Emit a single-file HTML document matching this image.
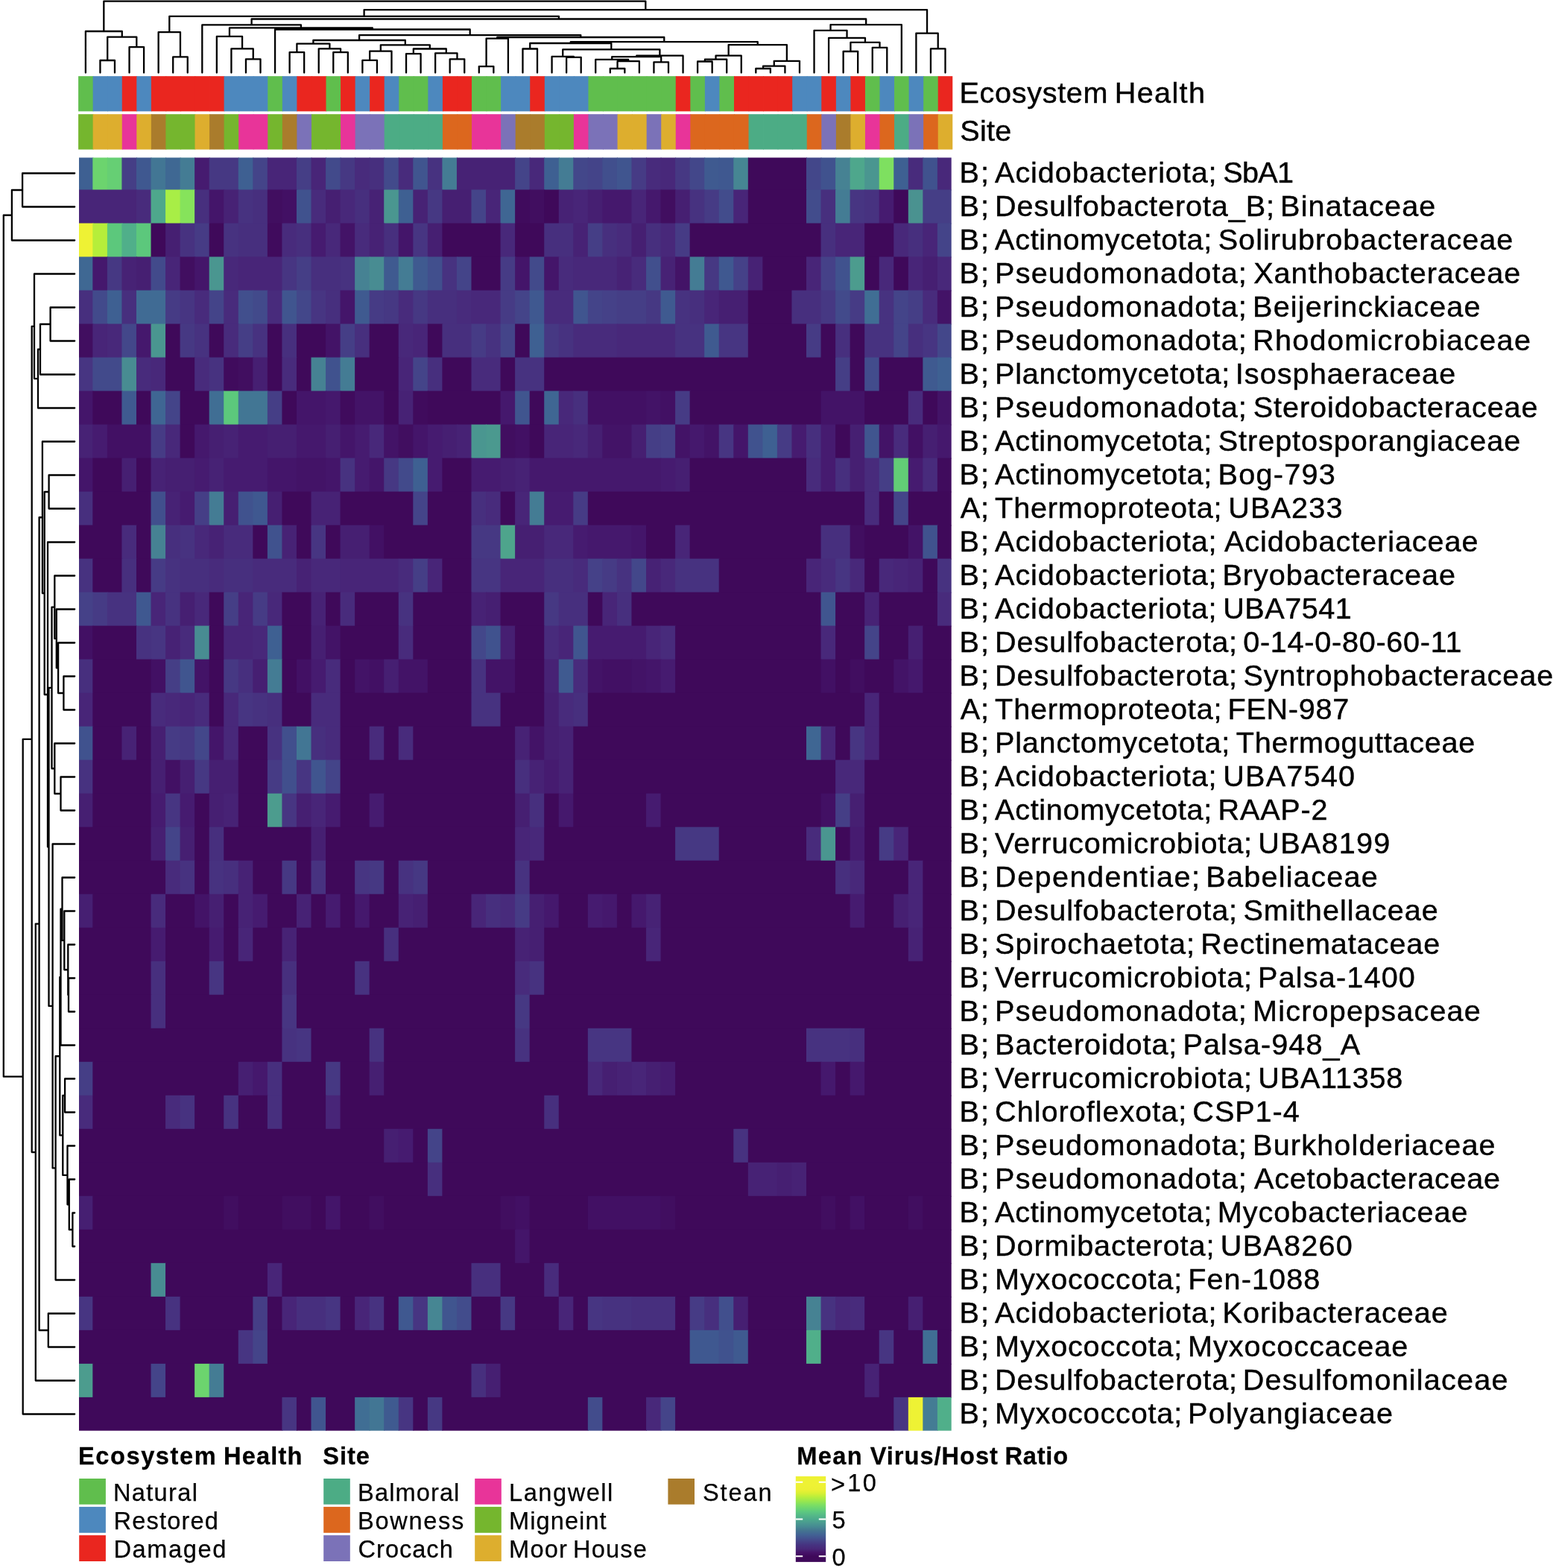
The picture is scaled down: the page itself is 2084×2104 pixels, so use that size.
<!DOCTYPE html>
<html lang="en"><head><meta charset="utf-8"><title>Mean Virus/Host Ratio heatmap</title>
<style>html,body{margin:0;padding:0;background:#fff;width:2084px;height:2104px}svg{display:block}text{font-family:"Liberation Sans",Arial,Helvetica,sans-serif;fill:#000}.rl{font-size:39.6px;stroke:#000;stroke-width:.45px}.lt{font-size:32.6px;font-weight:bold;stroke:#000;stroke-width:.3px}.ll{font-size:32.6px;stroke:#000;stroke-width:.25px}.d{fill:none;stroke:#000;stroke-width:2.3;stroke-linejoin:round;stroke-linecap:round}</style></head><body>
<svg width="2084" height="2104" viewBox="0 0 2084 2104" role="img" aria-label="Clustered heatmap of mean virus/host ratio">
<rect width="2084" height="2104" fill="#fff"/>
<g id="col-dend"><path class="d" d="M134.43 97.5V81H153.98V97.5M173.54 97.5V63.2H193.09V97.5M144.21 81V49.7H183.31V63.2M114.88 97.5V42H163.76V49.7M232.19 97.5V76.4H251.75V97.5M212.64 97.5V43.2H241.97V76.4M329.96 97.5V79.3H349.51V97.5M310.41 97.5V65.3H339.74V79.3M290.85 97.5V48.9H325.07V65.3M388.62 97.5V70.1H408.17V97.5M447.28 97.5V70.1H466.83V97.5M427.72 97.5V65.3H457.05V70.1M398.4 70.1V58.6H442.39V65.3M486.38 97.5V80.8H505.94V97.5M496.16 80.8V68.6H525.49V97.5M545.04 97.5V72.2H564.6V97.5M603.7 97.5V79.3H623.25V97.5M584.15 97.5V71.3H613.48V79.3M554.82 72.2V65.5H598.81V71.3M510.82 68.6V60.3H576.82V65.5M420.39 58.6V54H543.82V60.3M642.81 97.5V89.1H662.36V97.5M652.58 89.1V51.7H681.91V97.5M701.47 97.5V65.5H721.02V97.5M760.13 97.5V76.8H779.68V97.5M740.57 97.5V75.9H769.9V76.8M818.78 97.5V92H838.34V97.5M828.56 92V82.2H857.89V97.5M799.23 97.5V79.9H843.23V82.2M877.44 97.5V83.3H897V97.5M821.23 79.9V76.1H887.22V83.3M854.22 76.1V74.7H916.55V97.5M755.24 75.9V66.4H885.39V74.7M711.24 65.5V58H820.31V66.4M936.1 97.5V82.5H955.66V97.5M945.88 82.5V79.7H975.21V97.5M960.54 79.7V74.7H994.76V97.5M1014.31 97.5V92H1033.87V97.5M1024.09 92V88.7H1053.42V97.5M1038.76 88.7V81.8H1072.97V97.5M977.65 74.7V60.1H1055.86V81.8M765.78 58V56.2H1016.76V60.1M667.25 51.7V50H891.27V56.2M482.11 54V47.1H779.26V50M369.07 97.5V39.5H630.68V47.1M307.96 48.9V37.4H499.87V39.5M271.3 97.5V33.4H403.92V37.4M1131.63 97.5V69H1151.19V97.5M1170.74 97.5V63.8H1190.29V97.5M1141.41 69V56.9H1180.51V63.8M1112.08 97.5V50.8H1160.96V56.9M1092.53 97.5V40.8H1136.52V50.8M1114.52 40.8V33.1H1209.84V97.5M337.61 33.4V25.5H1162.18V33.1M227.31 43.2V21.8H749.9V25.5M1248.95 97.5V65.3H1268.5V97.5M1229.4 97.5V44.6H1258.73V65.3M488.6 21.8V13.2H1244.06V44.6M139.32 42V1.7H866.33V13.2"/></g>
<g id="row-dend"><path class="d" d="M100.2 232.5H30.1V277.5H100.2M30.1 255H15.9V322.5H100.2M100.2 412.5H67.6V457.5H100.2M67.6 435H54V502.5H100.2M54 468.75H51V547.5H100.2M100.2 367.5H46V508.12H51M100.2 637.5H65.6V682.5H100.2M100.2 907.5H85.4V952.5H100.2M100.2 862.5H78.1V930H85.4M100.2 817.5H75.8V896.25H78.1M100.2 772.5H73.3V856.88H75.8M100.2 1042.5H81.5V1087.5H100.2M100.2 997.5H73.3V1065H81.5M73.3 814.69H69.5V1031.25H73.3M100.2 1312.5H92V1357.5H100.2M100.2 1267.5H91.3V1335H92M100.2 1222.5H86.3V1301.25H91.3M100.2 1177.5H83.5V1261.88H86.3M83.5 1219.69H81.5V1402.5H100.2M100.2 1447.5H87.1V1492.5H100.2M100.2 1627.5H97.4V1672.5H100.2M100.2 1582.5H92.8V1650H97.4M100.2 1537.5H90.5V1616.25H92.8M87.1 1470H84.3V1576.88H90.5M81.5 1311.09H80.3V1523.44H84.3M80.3 1417.27H74.6V1717.5H100.2M100.2 1132.5H70.6V1567.38H74.6M69.5 922.97H65.5V1349.94H70.6M100.2 727.5H64V1136.46H65.5M65.6 660H59.7V931.98H64M100.2 592.5H56.9V795.99H59.7M100.2 1762.5H64.8V1807.5H100.2M56.9 694.24H52.6V1785H64.8M52.6 1239.62H47.8V1852.5H100.2M46 437.81H42.7V1546.06H47.8M42.7 991.94H30.7V1897.5H100.2M15.9 288.75H4.8V1444.72H30.7"/></g>
<g id="anno">
<rect x="105.1" y="102.2" width="20.35" height="47.2" fill="#60be4d"/>
<rect x="124.65" y="102.2" width="20.35" height="47.2" fill="#4d88be"/>
<rect x="144.21" y="102.2" width="20.35" height="47.2" fill="#4d88be"/>
<rect x="163.76" y="102.2" width="20.35" height="47.2" fill="#ea261f"/>
<rect x="183.31" y="102.2" width="20.35" height="47.2" fill="#4d88be"/>
<rect x="202.87" y="102.2" width="20.35" height="47.2" fill="#ea261f"/>
<rect x="222.42" y="102.2" width="20.35" height="47.2" fill="#ea261f"/>
<rect x="241.97" y="102.2" width="20.35" height="47.2" fill="#ea261f"/>
<rect x="261.52" y="102.2" width="20.35" height="47.2" fill="#ea261f"/>
<rect x="281.08" y="102.2" width="20.35" height="47.2" fill="#ea261f"/>
<rect x="300.63" y="102.2" width="20.35" height="47.2" fill="#4d88be"/>
<rect x="320.18" y="102.2" width="20.35" height="47.2" fill="#4d88be"/>
<rect x="339.74" y="102.2" width="20.35" height="47.2" fill="#4d88be"/>
<rect x="359.29" y="102.2" width="20.35" height="47.2" fill="#60be4d"/>
<rect x="378.84" y="102.2" width="20.35" height="47.2" fill="#4d88be"/>
<rect x="398.39" y="102.2" width="20.35" height="47.2" fill="#ea261f"/>
<rect x="417.95" y="102.2" width="20.35" height="47.2" fill="#ea261f"/>
<rect x="437.5" y="102.2" width="20.35" height="47.2" fill="#60be4d"/>
<rect x="457.05" y="102.2" width="20.35" height="47.2" fill="#ea261f"/>
<rect x="476.61" y="102.2" width="20.35" height="47.2" fill="#4d88be"/>
<rect x="496.16" y="102.2" width="20.35" height="47.2" fill="#ea261f"/>
<rect x="515.71" y="102.2" width="20.35" height="47.2" fill="#4d88be"/>
<rect x="535.27" y="102.2" width="20.35" height="47.2" fill="#60be4d"/>
<rect x="554.82" y="102.2" width="20.35" height="47.2" fill="#60be4d"/>
<rect x="574.37" y="102.2" width="20.35" height="47.2" fill="#4d88be"/>
<rect x="593.93" y="102.2" width="20.35" height="47.2" fill="#ea261f"/>
<rect x="613.48" y="102.2" width="20.35" height="47.2" fill="#ea261f"/>
<rect x="633.03" y="102.2" width="20.35" height="47.2" fill="#60be4d"/>
<rect x="652.58" y="102.2" width="20.35" height="47.2" fill="#60be4d"/>
<rect x="672.14" y="102.2" width="20.35" height="47.2" fill="#4d88be"/>
<rect x="691.69" y="102.2" width="20.35" height="47.2" fill="#4d88be"/>
<rect x="711.24" y="102.2" width="20.35" height="47.2" fill="#ea261f"/>
<rect x="730.8" y="102.2" width="20.35" height="47.2" fill="#4d88be"/>
<rect x="750.35" y="102.2" width="20.35" height="47.2" fill="#4d88be"/>
<rect x="769.9" y="102.2" width="20.35" height="47.2" fill="#4d88be"/>
<rect x="789.46" y="102.2" width="20.35" height="47.2" fill="#60be4d"/>
<rect x="809.01" y="102.2" width="20.35" height="47.2" fill="#60be4d"/>
<rect x="828.56" y="102.2" width="20.35" height="47.2" fill="#60be4d"/>
<rect x="848.11" y="102.2" width="20.35" height="47.2" fill="#60be4d"/>
<rect x="867.67" y="102.2" width="20.35" height="47.2" fill="#60be4d"/>
<rect x="887.22" y="102.2" width="20.35" height="47.2" fill="#60be4d"/>
<rect x="906.77" y="102.2" width="20.35" height="47.2" fill="#ea261f"/>
<rect x="926.33" y="102.2" width="20.35" height="47.2" fill="#60be4d"/>
<rect x="945.88" y="102.2" width="20.35" height="47.2" fill="#4d88be"/>
<rect x="965.43" y="102.2" width="20.35" height="47.2" fill="#60be4d"/>
<rect x="984.99" y="102.2" width="20.35" height="47.2" fill="#ea261f"/>
<rect x="1004.54" y="102.2" width="20.35" height="47.2" fill="#ea261f"/>
<rect x="1024.09" y="102.2" width="20.35" height="47.2" fill="#ea261f"/>
<rect x="1043.64" y="102.2" width="20.35" height="47.2" fill="#ea261f"/>
<rect x="1063.2" y="102.2" width="20.35" height="47.2" fill="#4d88be"/>
<rect x="1082.75" y="102.2" width="20.35" height="47.2" fill="#4d88be"/>
<rect x="1102.3" y="102.2" width="20.35" height="47.2" fill="#ea261f"/>
<rect x="1121.86" y="102.2" width="20.35" height="47.2" fill="#4d88be"/>
<rect x="1141.41" y="102.2" width="20.35" height="47.2" fill="#ea261f"/>
<rect x="1160.96" y="102.2" width="20.35" height="47.2" fill="#60be4d"/>
<rect x="1180.51" y="102.2" width="20.35" height="47.2" fill="#4d88be"/>
<rect x="1200.07" y="102.2" width="20.35" height="47.2" fill="#60be4d"/>
<rect x="1219.62" y="102.2" width="20.35" height="47.2" fill="#4d88be"/>
<rect x="1239.17" y="102.2" width="20.35" height="47.2" fill="#60be4d"/>
<rect x="1258.73" y="102.2" width="19.55" height="47.2" fill="#ea261f"/>
<rect x="105.1" y="153.2" width="20.35" height="47.4" fill="#75b62e"/>
<rect x="124.65" y="153.2" width="20.35" height="47.4" fill="#ddae2e"/>
<rect x="144.21" y="153.2" width="20.35" height="47.4" fill="#ddae2e"/>
<rect x="163.76" y="153.2" width="20.35" height="47.4" fill="#e83499"/>
<rect x="183.31" y="153.2" width="20.35" height="47.4" fill="#ddae2e"/>
<rect x="202.87" y="153.2" width="20.35" height="47.4" fill="#aa7c2c"/>
<rect x="222.42" y="153.2" width="20.35" height="47.4" fill="#75b62e"/>
<rect x="241.97" y="153.2" width="20.35" height="47.4" fill="#75b62e"/>
<rect x="261.52" y="153.2" width="20.35" height="47.4" fill="#ddae2e"/>
<rect x="281.08" y="153.2" width="20.35" height="47.4" fill="#aa7c2c"/>
<rect x="300.63" y="153.2" width="20.35" height="47.4" fill="#75b62e"/>
<rect x="320.18" y="153.2" width="20.35" height="47.4" fill="#e83499"/>
<rect x="339.74" y="153.2" width="20.35" height="47.4" fill="#e83499"/>
<rect x="359.29" y="153.2" width="20.35" height="47.4" fill="#75b62e"/>
<rect x="378.84" y="153.2" width="20.35" height="47.4" fill="#aa7c2c"/>
<rect x="398.39" y="153.2" width="20.35" height="47.4" fill="#7b72b8"/>
<rect x="417.95" y="153.2" width="20.35" height="47.4" fill="#75b62e"/>
<rect x="437.5" y="153.2" width="20.35" height="47.4" fill="#75b62e"/>
<rect x="457.05" y="153.2" width="20.35" height="47.4" fill="#e83499"/>
<rect x="476.61" y="153.2" width="20.35" height="47.4" fill="#7b72b8"/>
<rect x="496.16" y="153.2" width="20.35" height="47.4" fill="#7b72b8"/>
<rect x="515.71" y="153.2" width="20.35" height="47.4" fill="#4cac85"/>
<rect x="535.27" y="153.2" width="20.35" height="47.4" fill="#4cac85"/>
<rect x="554.82" y="153.2" width="20.35" height="47.4" fill="#4cac85"/>
<rect x="574.37" y="153.2" width="20.35" height="47.4" fill="#4cac85"/>
<rect x="593.93" y="153.2" width="20.35" height="47.4" fill="#dc671e"/>
<rect x="613.48" y="153.2" width="20.35" height="47.4" fill="#dc671e"/>
<rect x="633.03" y="153.2" width="20.35" height="47.4" fill="#e83499"/>
<rect x="652.58" y="153.2" width="20.35" height="47.4" fill="#e83499"/>
<rect x="672.14" y="153.2" width="20.35" height="47.4" fill="#7b72b8"/>
<rect x="691.69" y="153.2" width="20.35" height="47.4" fill="#aa7c2c"/>
<rect x="711.24" y="153.2" width="20.35" height="47.4" fill="#aa7c2c"/>
<rect x="730.8" y="153.2" width="20.35" height="47.4" fill="#75b62e"/>
<rect x="750.35" y="153.2" width="20.35" height="47.4" fill="#75b62e"/>
<rect x="769.9" y="153.2" width="20.35" height="47.4" fill="#e83499"/>
<rect x="789.46" y="153.2" width="20.35" height="47.4" fill="#7b72b8"/>
<rect x="809.01" y="153.2" width="20.35" height="47.4" fill="#7b72b8"/>
<rect x="828.56" y="153.2" width="20.35" height="47.4" fill="#ddae2e"/>
<rect x="848.11" y="153.2" width="20.35" height="47.4" fill="#ddae2e"/>
<rect x="867.67" y="153.2" width="20.35" height="47.4" fill="#7b72b8"/>
<rect x="887.22" y="153.2" width="20.35" height="47.4" fill="#ddae2e"/>
<rect x="906.77" y="153.2" width="20.35" height="47.4" fill="#e83499"/>
<rect x="926.33" y="153.2" width="20.35" height="47.4" fill="#dc671e"/>
<rect x="945.88" y="153.2" width="20.35" height="47.4" fill="#dc671e"/>
<rect x="965.43" y="153.2" width="20.35" height="47.4" fill="#dc671e"/>
<rect x="984.99" y="153.2" width="20.35" height="47.4" fill="#dc671e"/>
<rect x="1004.54" y="153.2" width="20.35" height="47.4" fill="#4cac85"/>
<rect x="1024.09" y="153.2" width="20.35" height="47.4" fill="#4cac85"/>
<rect x="1043.64" y="153.2" width="20.35" height="47.4" fill="#4cac85"/>
<rect x="1063.2" y="153.2" width="20.35" height="47.4" fill="#4cac85"/>
<rect x="1082.75" y="153.2" width="20.35" height="47.4" fill="#dc671e"/>
<rect x="1102.3" y="153.2" width="20.35" height="47.4" fill="#7b72b8"/>
<rect x="1121.86" y="153.2" width="20.35" height="47.4" fill="#aa7c2c"/>
<rect x="1141.41" y="153.2" width="20.35" height="47.4" fill="#ddae2e"/>
<rect x="1160.96" y="153.2" width="20.35" height="47.4" fill="#e83499"/>
<rect x="1180.51" y="153.2" width="20.35" height="47.4" fill="#dc671e"/>
<rect x="1200.07" y="153.2" width="20.35" height="47.4" fill="#4cac85"/>
<rect x="1219.62" y="153.2" width="20.35" height="47.4" fill="#7b72b8"/>
<rect x="1239.17" y="153.2" width="20.35" height="47.4" fill="#dc671e"/>
<rect x="1258.73" y="153.2" width="19.55" height="47.4" fill="#ddae2e"/>
</g>
<defs><clipPath id="hc"><rect x="106" y="211.5" width="1170.7" height="1708.3"/></clipPath></defs>
<g id="heat" clip-path="url(#hc)">
<rect x="104.8" y="209.5" width="20.54" height="46.01" fill="#3e6092"/>
<rect x="124.34" y="209.5" width="20.54" height="46.01" fill="#6cd46e"/>
<rect x="143.89" y="209.5" width="20.54" height="46.01" fill="#66cf74"/>
<rect x="163.43" y="209.5" width="20.54" height="46.01" fill="#453e86"/>
<rect x="182.98" y="209.5" width="20.54" height="46.01" fill="#3f5890"/>
<rect x="202.52" y="209.5" width="20.54" height="46.01" fill="#427694"/>
<rect x="222.06" y="209.5" width="20.54" height="46.01" fill="#3f6893"/>
<rect x="241.61" y="209.5" width="20.54" height="46.01" fill="#447c94"/>
<rect x="261.15" y="209.5" width="20.54" height="46.01" fill="#461b70"/>
<rect x="280.7" y="209.5" width="40.09" height="46.01" fill="#463883"/>
<rect x="319.78" y="209.5" width="20.54" height="46.01" fill="#3e6092"/>
<rect x="339.33" y="209.5" width="20.54" height="46.01" fill="#444489"/>
<rect x="358.87" y="209.5" width="40.09" height="46.01" fill="#482578"/>
<rect x="397.96" y="209.5" width="20.54" height="46.01" fill="#453e86"/>
<rect x="417.5" y="209.5" width="20.54" height="46.01" fill="#482578"/>
<rect x="437.05" y="209.5" width="20.54" height="46.01" fill="#424a8b"/>
<rect x="456.59" y="209.5" width="20.54" height="46.01" fill="#463883"/>
<rect x="476.14" y="209.5" width="20.54" height="46.01" fill="#482b7c"/>
<rect x="495.68" y="209.5" width="20.54" height="46.01" fill="#472f7e"/>
<rect x="515.22" y="209.5" width="20.54" height="46.01" fill="#424a8b"/>
<rect x="534.77" y="209.5" width="20.54" height="46.01" fill="#482b7c"/>
<rect x="554.31" y="209.5" width="20.54" height="46.01" fill="#40558f"/>
<rect x="573.86" y="209.5" width="20.54" height="46.01" fill="#473280"/>
<rect x="593.4" y="209.5" width="20.54" height="46.01" fill="#447c94"/>
<rect x="612.94" y="209.5" width="79.18" height="46.01" fill="#472275"/>
<rect x="691.12" y="209.5" width="20.54" height="46.01" fill="#444489"/>
<rect x="710.66" y="209.5" width="20.54" height="46.01" fill="#48287a"/>
<rect x="730.21" y="209.5" width="20.54" height="46.01" fill="#3e6092"/>
<rect x="749.75" y="209.5" width="20.54" height="46.01" fill="#447c94"/>
<rect x="769.3" y="209.5" width="20.54" height="46.01" fill="#43478a"/>
<rect x="788.84" y="209.5" width="20.54" height="46.01" fill="#444489"/>
<rect x="808.38" y="209.5" width="20.54" height="46.01" fill="#414f8d"/>
<rect x="827.93" y="209.5" width="20.54" height="46.01" fill="#40558f"/>
<rect x="847.47" y="209.5" width="20.54" height="46.01" fill="#463b85"/>
<rect x="867.02" y="209.5" width="20.54" height="46.01" fill="#482b7c"/>
<rect x="886.56" y="209.5" width="20.54" height="46.01" fill="#48287a"/>
<rect x="906.1" y="209.5" width="20.54" height="46.01" fill="#463883"/>
<rect x="925.65" y="209.5" width="20.54" height="46.01" fill="#43478a"/>
<rect x="945.19" y="209.5" width="20.54" height="46.01" fill="#3f5a90"/>
<rect x="964.74" y="209.5" width="20.54" height="46.01" fill="#3f5890"/>
<rect x="984.28" y="209.5" width="20.54" height="46.01" fill="#468693"/>
<rect x="1003.82" y="209.5" width="79.18" height="46.01" fill="#3f095a"/>
<rect x="1082" y="209.5" width="20.54" height="46.01" fill="#43478a"/>
<rect x="1101.54" y="209.5" width="20.54" height="46.01" fill="#40528e"/>
<rect x="1121.09" y="209.5" width="20.54" height="46.01" fill="#468293"/>
<rect x="1140.63" y="209.5" width="20.54" height="46.01" fill="#4ea78c"/>
<rect x="1160.18" y="209.5" width="20.54" height="46.01" fill="#4a9690"/>
<rect x="1179.72" y="209.5" width="20.54" height="46.01" fill="#7ee060"/>
<rect x="1199.26" y="209.5" width="20.54" height="46.01" fill="#3e6092"/>
<rect x="1218.81" y="209.5" width="20.54" height="46.01" fill="#482b7c"/>
<rect x="1238.35" y="209.5" width="20.54" height="46.01" fill="#40528e"/>
<rect x="1257.9" y="209.5" width="20.54" height="46.01" fill="#48287a"/>
<rect x="104.8" y="254.51" width="79.18" height="46.01" fill="#482578"/>
<rect x="182.98" y="254.51" width="20.54" height="46.01" fill="#482b7c"/>
<rect x="202.52" y="254.51" width="20.54" height="46.01" fill="#4ea78c"/>
<rect x="222.06" y="254.51" width="20.54" height="46.01" fill="#a8ee46"/>
<rect x="241.61" y="254.51" width="20.54" height="46.01" fill="#86e35b"/>
<rect x="261.15" y="254.51" width="20.54" height="46.01" fill="#472f7e"/>
<rect x="280.7" y="254.51" width="20.54" height="46.01" fill="#44156a"/>
<rect x="300.24" y="254.51" width="20.54" height="46.01" fill="#472275"/>
<rect x="319.78" y="254.51" width="20.54" height="46.01" fill="#473280"/>
<rect x="339.33" y="254.51" width="20.54" height="46.01" fill="#472f7e"/>
<rect x="358.87" y="254.51" width="20.54" height="46.01" fill="#410e60"/>
<rect x="378.42" y="254.51" width="20.54" height="46.01" fill="#421064"/>
<rect x="397.96" y="254.51" width="20.54" height="46.01" fill="#40528e"/>
<rect x="417.5" y="254.51" width="20.54" height="46.01" fill="#482b7c"/>
<rect x="437.05" y="254.51" width="20.54" height="46.01" fill="#461f72"/>
<rect x="456.59" y="254.51" width="20.54" height="46.01" fill="#48287a"/>
<rect x="476.14" y="254.51" width="20.54" height="46.01" fill="#472f7e"/>
<rect x="495.68" y="254.51" width="20.54" height="46.01" fill="#472275"/>
<rect x="515.22" y="254.51" width="20.54" height="46.01" fill="#4a9690"/>
<rect x="534.77" y="254.51" width="20.54" height="46.01" fill="#3e6092"/>
<rect x="554.31" y="254.51" width="20.54" height="46.01" fill="#472275"/>
<rect x="573.86" y="254.51" width="20.54" height="46.01" fill="#463883"/>
<rect x="593.4" y="254.51" width="40.09" height="46.01" fill="#461f72"/>
<rect x="632.49" y="254.51" width="20.54" height="46.01" fill="#444489"/>
<rect x="652.03" y="254.51" width="20.54" height="46.01" fill="#482578"/>
<rect x="671.58" y="254.51" width="20.54" height="46.01" fill="#3f6693"/>
<rect x="691.12" y="254.51" width="20.54" height="46.01" fill="#400b5d"/>
<rect x="710.66" y="254.51" width="20.54" height="46.01" fill="#410e60"/>
<rect x="730.21" y="254.51" width="20.54" height="46.01" fill="#3f095a"/>
<rect x="749.75" y="254.51" width="20.54" height="46.01" fill="#472275"/>
<rect x="769.3" y="254.51" width="20.54" height="46.01" fill="#482578"/>
<rect x="788.84" y="254.51" width="20.54" height="46.01" fill="#461f72"/>
<rect x="808.38" y="254.51" width="40.09" height="46.01" fill="#45186d"/>
<rect x="847.47" y="254.51" width="20.54" height="46.01" fill="#482578"/>
<rect x="867.02" y="254.51" width="20.54" height="46.01" fill="#45186d"/>
<rect x="886.56" y="254.51" width="20.54" height="46.01" fill="#410e60"/>
<rect x="906.1" y="254.51" width="20.54" height="46.01" fill="#461f72"/>
<rect x="925.65" y="254.51" width="20.54" height="46.01" fill="#473280"/>
<rect x="945.19" y="254.51" width="20.54" height="46.01" fill="#463b85"/>
<rect x="964.74" y="254.51" width="20.54" height="46.01" fill="#424c8c"/>
<rect x="984.28" y="254.51" width="20.54" height="46.01" fill="#482578"/>
<rect x="1003.82" y="254.51" width="79.18" height="46.01" fill="#3f095a"/>
<rect x="1082" y="254.51" width="20.54" height="46.01" fill="#424c8c"/>
<rect x="1101.54" y="254.51" width="20.54" height="46.01" fill="#472f7e"/>
<rect x="1121.09" y="254.51" width="20.54" height="46.01" fill="#447c94"/>
<rect x="1140.63" y="254.51" width="20.54" height="46.01" fill="#473582"/>
<rect x="1160.18" y="254.51" width="20.54" height="46.01" fill="#473280"/>
<rect x="1179.72" y="254.51" width="20.54" height="46.01" fill="#461b70"/>
<rect x="1199.26" y="254.51" width="20.54" height="46.01" fill="#3f095a"/>
<rect x="1218.81" y="254.51" width="20.54" height="46.01" fill="#4a9290"/>
<rect x="1238.35" y="254.51" width="40.09" height="46.01" fill="#453e86"/>
<rect x="104.8" y="299.52" width="20.54" height="46.01" fill="#eef234"/>
<rect x="124.34" y="299.52" width="20.54" height="46.01" fill="#b6ee3a"/>
<rect x="143.89" y="299.52" width="20.54" height="46.01" fill="#5cc87c"/>
<rect x="163.43" y="299.52" width="20.54" height="46.01" fill="#50af8a"/>
<rect x="182.98" y="299.52" width="20.54" height="46.01" fill="#5cc87c"/>
<rect x="202.52" y="299.52" width="20.54" height="46.01" fill="#3f095a"/>
<rect x="222.06" y="299.52" width="20.54" height="46.01" fill="#461f72"/>
<rect x="241.61" y="299.52" width="20.54" height="46.01" fill="#473280"/>
<rect x="261.15" y="299.52" width="20.54" height="46.01" fill="#463b85"/>
<rect x="280.7" y="299.52" width="20.54" height="46.01" fill="#3f095a"/>
<rect x="300.24" y="299.52" width="20.54" height="46.01" fill="#473280"/>
<rect x="319.78" y="299.52" width="40.09" height="46.01" fill="#472f7e"/>
<rect x="358.87" y="299.52" width="20.54" height="46.01" fill="#400b5d"/>
<rect x="378.42" y="299.52" width="20.54" height="46.01" fill="#482b7c"/>
<rect x="397.96" y="299.52" width="20.54" height="46.01" fill="#472f7e"/>
<rect x="417.5" y="299.52" width="20.54" height="46.01" fill="#461b70"/>
<rect x="437.05" y="299.52" width="20.54" height="46.01" fill="#48287a"/>
<rect x="456.59" y="299.52" width="20.54" height="46.01" fill="#431367"/>
<rect x="476.14" y="299.52" width="20.54" height="46.01" fill="#482b7c"/>
<rect x="495.68" y="299.52" width="20.54" height="46.01" fill="#472275"/>
<rect x="515.22" y="299.52" width="20.54" height="46.01" fill="#472f7e"/>
<rect x="534.77" y="299.52" width="20.54" height="46.01" fill="#44156a"/>
<rect x="554.31" y="299.52" width="20.54" height="46.01" fill="#473582"/>
<rect x="573.86" y="299.52" width="20.54" height="46.01" fill="#461f72"/>
<rect x="593.4" y="299.52" width="79.18" height="46.01" fill="#3f095a"/>
<rect x="671.58" y="299.52" width="20.54" height="46.01" fill="#48287a"/>
<rect x="691.12" y="299.52" width="40.09" height="46.01" fill="#3f095a"/>
<rect x="730.21" y="299.52" width="40.09" height="46.01" fill="#472f7e"/>
<rect x="769.3" y="299.52" width="20.54" height="46.01" fill="#472275"/>
<rect x="788.84" y="299.52" width="20.54" height="46.01" fill="#453e86"/>
<rect x="808.38" y="299.52" width="20.54" height="46.01" fill="#472f7e"/>
<rect x="827.93" y="299.52" width="20.54" height="46.01" fill="#482b7c"/>
<rect x="847.47" y="299.52" width="20.54" height="46.01" fill="#461f72"/>
<rect x="867.02" y="299.52" width="20.54" height="46.01" fill="#472f7e"/>
<rect x="886.56" y="299.52" width="20.54" height="46.01" fill="#48287a"/>
<rect x="906.1" y="299.52" width="20.54" height="46.01" fill="#463b85"/>
<rect x="925.65" y="299.52" width="176.9" height="46.01" fill="#3f095a"/>
<rect x="1101.54" y="299.52" width="20.54" height="46.01" fill="#472f7e"/>
<rect x="1121.09" y="299.52" width="40.09" height="46.01" fill="#482578"/>
<rect x="1160.18" y="299.52" width="40.09" height="46.01" fill="#3f095a"/>
<rect x="1199.26" y="299.52" width="20.54" height="46.01" fill="#48287a"/>
<rect x="1218.81" y="299.52" width="20.54" height="46.01" fill="#472f7e"/>
<rect x="1238.35" y="299.52" width="20.54" height="46.01" fill="#482578"/>
<rect x="1257.9" y="299.52" width="20.54" height="46.01" fill="#444489"/>
<rect x="104.8" y="344.53" width="20.54" height="46.01" fill="#3f6893"/>
<rect x="124.34" y="344.53" width="20.54" height="46.01" fill="#45186d"/>
<rect x="143.89" y="344.53" width="20.54" height="46.01" fill="#463883"/>
<rect x="163.43" y="344.53" width="20.54" height="46.01" fill="#472275"/>
<rect x="182.98" y="344.53" width="20.54" height="46.01" fill="#461f72"/>
<rect x="202.52" y="344.53" width="20.54" height="46.01" fill="#424a8b"/>
<rect x="222.06" y="344.53" width="20.54" height="46.01" fill="#482578"/>
<rect x="241.61" y="344.53" width="20.54" height="46.01" fill="#410e60"/>
<rect x="261.15" y="344.53" width="20.54" height="46.01" fill="#44156a"/>
<rect x="280.7" y="344.53" width="20.54" height="46.01" fill="#4a9690"/>
<rect x="300.24" y="344.53" width="20.54" height="46.01" fill="#48287a"/>
<rect x="319.78" y="344.53" width="59.63" height="46.01" fill="#482578"/>
<rect x="378.42" y="344.53" width="20.54" height="46.01" fill="#473582"/>
<rect x="397.96" y="344.53" width="20.54" height="46.01" fill="#453e86"/>
<rect x="417.5" y="344.53" width="40.09" height="46.01" fill="#472f7e"/>
<rect x="456.59" y="344.53" width="20.54" height="46.01" fill="#473280"/>
<rect x="476.14" y="344.53" width="20.54" height="46.01" fill="#468293"/>
<rect x="495.68" y="344.53" width="20.54" height="46.01" fill="#488c92"/>
<rect x="515.22" y="344.53" width="20.54" height="46.01" fill="#3f5a90"/>
<rect x="534.77" y="344.53" width="20.54" height="46.01" fill="#447c94"/>
<rect x="554.31" y="344.53" width="20.54" height="46.01" fill="#3f5a90"/>
<rect x="573.86" y="344.53" width="20.54" height="46.01" fill="#414f8d"/>
<rect x="593.4" y="344.53" width="20.54" height="46.01" fill="#473280"/>
<rect x="612.94" y="344.53" width="20.54" height="46.01" fill="#444489"/>
<rect x="632.49" y="344.53" width="40.09" height="46.01" fill="#3f095a"/>
<rect x="671.58" y="344.53" width="20.54" height="46.01" fill="#463b85"/>
<rect x="691.12" y="344.53" width="20.54" height="46.01" fill="#44156a"/>
<rect x="710.66" y="344.53" width="20.54" height="46.01" fill="#424a8b"/>
<rect x="730.21" y="344.53" width="20.54" height="46.01" fill="#44156a"/>
<rect x="749.75" y="344.53" width="20.54" height="46.01" fill="#482b7c"/>
<rect x="769.3" y="344.53" width="59.63" height="46.01" fill="#48287a"/>
<rect x="827.93" y="344.53" width="20.54" height="46.01" fill="#472275"/>
<rect x="847.47" y="344.53" width="20.54" height="46.01" fill="#482b7c"/>
<rect x="867.02" y="344.53" width="20.54" height="46.01" fill="#414f8d"/>
<rect x="886.56" y="344.53" width="20.54" height="46.01" fill="#472275"/>
<rect x="906.1" y="344.53" width="20.54" height="46.01" fill="#431367"/>
<rect x="925.65" y="344.53" width="20.54" height="46.01" fill="#447c94"/>
<rect x="945.19" y="344.53" width="20.54" height="46.01" fill="#463883"/>
<rect x="964.74" y="344.53" width="20.54" height="46.01" fill="#3f5890"/>
<rect x="984.28" y="344.53" width="20.54" height="46.01" fill="#454188"/>
<rect x="1003.82" y="344.53" width="20.54" height="46.01" fill="#472275"/>
<rect x="1023.37" y="344.53" width="59.63" height="46.01" fill="#3f095a"/>
<rect x="1082" y="344.53" width="20.54" height="46.01" fill="#482578"/>
<rect x="1101.54" y="344.53" width="20.54" height="46.01" fill="#454188"/>
<rect x="1121.09" y="344.53" width="20.54" height="46.01" fill="#40528e"/>
<rect x="1140.63" y="344.53" width="20.54" height="46.01" fill="#4c9c8e"/>
<rect x="1160.18" y="344.53" width="20.54" height="46.01" fill="#3f095a"/>
<rect x="1179.72" y="344.53" width="20.54" height="46.01" fill="#48287a"/>
<rect x="1199.26" y="344.53" width="20.54" height="46.01" fill="#3f095a"/>
<rect x="1218.81" y="344.53" width="20.54" height="46.01" fill="#482578"/>
<rect x="1238.35" y="344.53" width="20.54" height="46.01" fill="#461f72"/>
<rect x="1257.9" y="344.53" width="20.54" height="46.01" fill="#48287a"/>
<rect x="104.8" y="389.54" width="20.54" height="46.01" fill="#472f7e"/>
<rect x="124.34" y="389.54" width="20.54" height="46.01" fill="#424a8b"/>
<rect x="143.89" y="389.54" width="20.54" height="46.01" fill="#3e6092"/>
<rect x="163.43" y="389.54" width="20.54" height="46.01" fill="#472f7e"/>
<rect x="182.98" y="389.54" width="40.09" height="46.01" fill="#406b94"/>
<rect x="222.06" y="389.54" width="20.54" height="46.01" fill="#463b85"/>
<rect x="241.61" y="389.54" width="20.54" height="46.01" fill="#473582"/>
<rect x="261.15" y="389.54" width="20.54" height="46.01" fill="#482b7c"/>
<rect x="280.7" y="389.54" width="20.54" height="46.01" fill="#444489"/>
<rect x="300.24" y="389.54" width="20.54" height="46.01" fill="#482b7c"/>
<rect x="319.78" y="389.54" width="20.54" height="46.01" fill="#414f8d"/>
<rect x="339.33" y="389.54" width="20.54" height="46.01" fill="#424a8b"/>
<rect x="358.87" y="389.54" width="20.54" height="46.01" fill="#482b7c"/>
<rect x="378.42" y="389.54" width="20.54" height="46.01" fill="#40558f"/>
<rect x="397.96" y="389.54" width="20.54" height="46.01" fill="#43478a"/>
<rect x="417.5" y="389.54" width="20.54" height="46.01" fill="#473582"/>
<rect x="437.05" y="389.54" width="20.54" height="46.01" fill="#472f7e"/>
<rect x="456.59" y="389.54" width="20.54" height="46.01" fill="#44156a"/>
<rect x="476.14" y="389.54" width="20.54" height="46.01" fill="#3f5a90"/>
<rect x="495.68" y="389.54" width="20.54" height="46.01" fill="#463b85"/>
<rect x="515.22" y="389.54" width="20.54" height="46.01" fill="#463883"/>
<rect x="534.77" y="389.54" width="20.54" height="46.01" fill="#482b7c"/>
<rect x="554.31" y="389.54" width="20.54" height="46.01" fill="#463883"/>
<rect x="573.86" y="389.54" width="40.09" height="46.01" fill="#472f7e"/>
<rect x="612.94" y="389.54" width="20.54" height="46.01" fill="#482b7c"/>
<rect x="632.49" y="389.54" width="40.09" height="46.01" fill="#48287a"/>
<rect x="671.58" y="389.54" width="20.54" height="46.01" fill="#463b85"/>
<rect x="691.12" y="389.54" width="20.54" height="46.01" fill="#444489"/>
<rect x="710.66" y="389.54" width="20.54" height="46.01" fill="#3f5890"/>
<rect x="730.21" y="389.54" width="40.09" height="46.01" fill="#482b7c"/>
<rect x="769.3" y="389.54" width="20.54" height="46.01" fill="#40558f"/>
<rect x="788.84" y="389.54" width="20.54" height="46.01" fill="#444489"/>
<rect x="808.38" y="389.54" width="20.54" height="46.01" fill="#454188"/>
<rect x="827.93" y="389.54" width="40.09" height="46.01" fill="#453e86"/>
<rect x="867.02" y="389.54" width="20.54" height="46.01" fill="#463883"/>
<rect x="886.56" y="389.54" width="20.54" height="46.01" fill="#3f5a90"/>
<rect x="906.1" y="389.54" width="20.54" height="46.01" fill="#473280"/>
<rect x="925.65" y="389.54" width="20.54" height="46.01" fill="#472f7e"/>
<rect x="945.19" y="389.54" width="20.54" height="46.01" fill="#482578"/>
<rect x="964.74" y="389.54" width="40.09" height="46.01" fill="#461f72"/>
<rect x="1003.82" y="389.54" width="59.63" height="46.01" fill="#3f095a"/>
<rect x="1062.46" y="389.54" width="40.09" height="46.01" fill="#472f7e"/>
<rect x="1101.54" y="389.54" width="20.54" height="46.01" fill="#463883"/>
<rect x="1121.09" y="389.54" width="20.54" height="46.01" fill="#424a8b"/>
<rect x="1140.63" y="389.54" width="20.54" height="46.01" fill="#463b85"/>
<rect x="1160.18" y="389.54" width="20.54" height="46.01" fill="#406e94"/>
<rect x="1179.72" y="389.54" width="20.54" height="46.01" fill="#473280"/>
<rect x="1199.26" y="389.54" width="20.54" height="46.01" fill="#444489"/>
<rect x="1218.81" y="389.54" width="20.54" height="46.01" fill="#453e86"/>
<rect x="1238.35" y="389.54" width="20.54" height="46.01" fill="#482b7c"/>
<rect x="1257.9" y="389.54" width="20.54" height="46.01" fill="#431367"/>
<rect x="104.8" y="434.55" width="20.54" height="46.01" fill="#410e60"/>
<rect x="124.34" y="434.55" width="20.54" height="46.01" fill="#482578"/>
<rect x="143.89" y="434.55" width="20.54" height="46.01" fill="#48287a"/>
<rect x="163.43" y="434.55" width="20.54" height="46.01" fill="#43478a"/>
<rect x="182.98" y="434.55" width="20.54" height="46.01" fill="#45186d"/>
<rect x="202.52" y="434.55" width="20.54" height="46.01" fill="#4a9690"/>
<rect x="222.06" y="434.55" width="20.54" height="46.01" fill="#3f095a"/>
<rect x="241.61" y="434.55" width="20.54" height="46.01" fill="#463883"/>
<rect x="261.15" y="434.55" width="20.54" height="46.01" fill="#473280"/>
<rect x="280.7" y="434.55" width="20.54" height="46.01" fill="#3f095a"/>
<rect x="300.24" y="434.55" width="20.54" height="46.01" fill="#482b7c"/>
<rect x="319.78" y="434.55" width="20.54" height="46.01" fill="#453e86"/>
<rect x="339.33" y="434.55" width="20.54" height="46.01" fill="#473280"/>
<rect x="358.87" y="434.55" width="20.54" height="46.01" fill="#3f095a"/>
<rect x="378.42" y="434.55" width="20.54" height="46.01" fill="#472f7e"/>
<rect x="397.96" y="434.55" width="40.09" height="46.01" fill="#3f095a"/>
<rect x="437.05" y="434.55" width="20.54" height="46.01" fill="#431367"/>
<rect x="456.59" y="434.55" width="20.54" height="46.01" fill="#453e86"/>
<rect x="476.14" y="434.55" width="20.54" height="46.01" fill="#472f7e"/>
<rect x="495.68" y="434.55" width="40.09" height="46.01" fill="#3f095a"/>
<rect x="534.77" y="434.55" width="20.54" height="46.01" fill="#48287a"/>
<rect x="554.31" y="434.55" width="20.54" height="46.01" fill="#482578"/>
<rect x="573.86" y="434.55" width="20.54" height="46.01" fill="#3f095a"/>
<rect x="593.4" y="434.55" width="40.09" height="46.01" fill="#472f7e"/>
<rect x="632.49" y="434.55" width="20.54" height="46.01" fill="#463b85"/>
<rect x="652.03" y="434.55" width="20.54" height="46.01" fill="#473280"/>
<rect x="671.58" y="434.55" width="20.54" height="46.01" fill="#444489"/>
<rect x="691.12" y="434.55" width="20.54" height="46.01" fill="#3f095a"/>
<rect x="710.66" y="434.55" width="20.54" height="46.01" fill="#3e6092"/>
<rect x="730.21" y="434.55" width="20.54" height="46.01" fill="#463883"/>
<rect x="749.75" y="434.55" width="20.54" height="46.01" fill="#473280"/>
<rect x="769.3" y="434.55" width="59.63" height="46.01" fill="#482b7c"/>
<rect x="827.93" y="434.55" width="79.18" height="46.01" fill="#48287a"/>
<rect x="906.1" y="434.55" width="40.09" height="46.01" fill="#473280"/>
<rect x="945.19" y="434.55" width="20.54" height="46.01" fill="#3f5a90"/>
<rect x="964.74" y="434.55" width="40.09" height="46.01" fill="#473582"/>
<rect x="1003.82" y="434.55" width="79.18" height="46.01" fill="#3f095a"/>
<rect x="1082" y="434.55" width="20.54" height="46.01" fill="#463b85"/>
<rect x="1101.54" y="434.55" width="20.54" height="46.01" fill="#3f095a"/>
<rect x="1121.09" y="434.55" width="20.54" height="46.01" fill="#472f7e"/>
<rect x="1140.63" y="434.55" width="20.54" height="46.01" fill="#3f095a"/>
<rect x="1160.18" y="434.55" width="40.09" height="46.01" fill="#473280"/>
<rect x="1199.26" y="434.55" width="20.54" height="46.01" fill="#444489"/>
<rect x="1218.81" y="434.55" width="20.54" height="46.01" fill="#472f7e"/>
<rect x="1238.35" y="434.55" width="20.54" height="46.01" fill="#473582"/>
<rect x="1257.9" y="434.55" width="20.54" height="46.01" fill="#43478a"/>
<rect x="104.8" y="479.56" width="20.54" height="46.01" fill="#473582"/>
<rect x="124.34" y="479.56" width="40.09" height="46.01" fill="#424a8b"/>
<rect x="163.43" y="479.56" width="20.54" height="46.01" fill="#488c92"/>
<rect x="182.98" y="479.56" width="20.54" height="46.01" fill="#482b7c"/>
<rect x="202.52" y="479.56" width="20.54" height="46.01" fill="#48287a"/>
<rect x="222.06" y="479.56" width="40.09" height="46.01" fill="#3f095a"/>
<rect x="261.15" y="479.56" width="20.54" height="46.01" fill="#482b7c"/>
<rect x="280.7" y="479.56" width="20.54" height="46.01" fill="#473280"/>
<rect x="300.24" y="479.56" width="20.54" height="46.01" fill="#400b5d"/>
<rect x="319.78" y="479.56" width="20.54" height="46.01" fill="#410e60"/>
<rect x="339.33" y="479.56" width="20.54" height="46.01" fill="#461f72"/>
<rect x="358.87" y="479.56" width="20.54" height="46.01" fill="#3f095a"/>
<rect x="378.42" y="479.56" width="20.54" height="46.01" fill="#482b7c"/>
<rect x="397.96" y="479.56" width="20.54" height="46.01" fill="#3f095a"/>
<rect x="417.5" y="479.56" width="20.54" height="46.01" fill="#468293"/>
<rect x="437.05" y="479.56" width="20.54" height="46.01" fill="#40528e"/>
<rect x="456.59" y="479.56" width="20.54" height="46.01" fill="#447c94"/>
<rect x="476.14" y="479.56" width="59.63" height="46.01" fill="#3f095a"/>
<rect x="534.77" y="479.56" width="20.54" height="46.01" fill="#482578"/>
<rect x="554.31" y="479.56" width="20.54" height="46.01" fill="#444489"/>
<rect x="573.86" y="479.56" width="20.54" height="46.01" fill="#472f7e"/>
<rect x="593.4" y="479.56" width="40.09" height="46.01" fill="#3f095a"/>
<rect x="632.49" y="479.56" width="40.09" height="46.01" fill="#482b7c"/>
<rect x="671.58" y="479.56" width="20.54" height="46.01" fill="#3f095a"/>
<rect x="691.12" y="479.56" width="40.09" height="46.01" fill="#473280"/>
<rect x="730.21" y="479.56" width="391.88" height="46.01" fill="#3f095a"/>
<rect x="1121.09" y="479.56" width="20.54" height="46.01" fill="#453e86"/>
<rect x="1140.63" y="479.56" width="20.54" height="46.01" fill="#3f095a"/>
<rect x="1160.18" y="479.56" width="20.54" height="46.01" fill="#424c8c"/>
<rect x="1179.72" y="479.56" width="59.63" height="46.01" fill="#3f095a"/>
<rect x="1238.35" y="479.56" width="20.54" height="46.01" fill="#3f5a90"/>
<rect x="1257.9" y="479.56" width="20.54" height="46.01" fill="#3e6092"/>
<rect x="104.8" y="524.57" width="20.54" height="46.01" fill="#44156a"/>
<rect x="124.34" y="524.57" width="40.09" height="46.01" fill="#3f095a"/>
<rect x="163.43" y="524.57" width="20.54" height="46.01" fill="#3f5a90"/>
<rect x="182.98" y="524.57" width="20.54" height="46.01" fill="#3f095a"/>
<rect x="202.52" y="524.57" width="20.54" height="46.01" fill="#3f6693"/>
<rect x="222.06" y="524.57" width="20.54" height="46.01" fill="#444489"/>
<rect x="241.61" y="524.57" width="40.09" height="46.01" fill="#3f095a"/>
<rect x="280.7" y="524.57" width="20.54" height="46.01" fill="#406e94"/>
<rect x="300.24" y="524.57" width="20.54" height="46.01" fill="#5cc87c"/>
<rect x="319.78" y="524.57" width="40.09" height="46.01" fill="#427694"/>
<rect x="358.87" y="524.57" width="20.54" height="46.01" fill="#453e86"/>
<rect x="378.42" y="524.57" width="20.54" height="46.01" fill="#3f095a"/>
<rect x="397.96" y="524.57" width="40.09" height="46.01" fill="#44156a"/>
<rect x="437.05" y="524.57" width="20.54" height="46.01" fill="#45186d"/>
<rect x="456.59" y="524.57" width="20.54" height="46.01" fill="#400b5d"/>
<rect x="476.14" y="524.57" width="40.09" height="46.01" fill="#431367"/>
<rect x="515.22" y="524.57" width="20.54" height="46.01" fill="#3f095a"/>
<rect x="534.77" y="524.57" width="20.54" height="46.01" fill="#472275"/>
<rect x="554.31" y="524.57" width="20.54" height="46.01" fill="#400b5d"/>
<rect x="573.86" y="524.57" width="98.72" height="46.01" fill="#3f095a"/>
<rect x="671.58" y="524.57" width="20.54" height="46.01" fill="#45186d"/>
<rect x="691.12" y="524.57" width="20.54" height="46.01" fill="#40558f"/>
<rect x="710.66" y="524.57" width="20.54" height="46.01" fill="#3f095a"/>
<rect x="730.21" y="524.57" width="20.54" height="46.01" fill="#3f6693"/>
<rect x="749.75" y="524.57" width="20.54" height="46.01" fill="#48287a"/>
<rect x="769.3" y="524.57" width="20.54" height="46.01" fill="#472f7e"/>
<rect x="788.84" y="524.57" width="79.18" height="46.01" fill="#421064"/>
<rect x="867.02" y="524.57" width="20.54" height="46.01" fill="#431367"/>
<rect x="886.56" y="524.57" width="20.54" height="46.01" fill="#421064"/>
<rect x="906.1" y="524.57" width="20.54" height="46.01" fill="#463b85"/>
<rect x="925.65" y="524.57" width="176.9" height="46.01" fill="#3f095a"/>
<rect x="1101.54" y="524.57" width="59.63" height="46.01" fill="#431367"/>
<rect x="1160.18" y="524.57" width="59.63" height="46.01" fill="#3f095a"/>
<rect x="1218.81" y="524.57" width="20.54" height="46.01" fill="#482b7c"/>
<rect x="1238.35" y="524.57" width="20.54" height="46.01" fill="#3f095a"/>
<rect x="1257.9" y="524.57" width="20.54" height="46.01" fill="#431367"/>
<rect x="104.8" y="569.58" width="20.54" height="46.01" fill="#472275"/>
<rect x="124.34" y="569.58" width="20.54" height="46.01" fill="#461b70"/>
<rect x="143.89" y="569.58" width="59.63" height="46.01" fill="#421064"/>
<rect x="202.52" y="569.58" width="20.54" height="46.01" fill="#463b85"/>
<rect x="222.06" y="569.58" width="20.54" height="46.01" fill="#48287a"/>
<rect x="241.61" y="569.58" width="20.54" height="46.01" fill="#3f095a"/>
<rect x="261.15" y="569.58" width="20.54" height="46.01" fill="#45186d"/>
<rect x="280.7" y="569.58" width="20.54" height="46.01" fill="#461f72"/>
<rect x="300.24" y="569.58" width="20.54" height="46.01" fill="#472275"/>
<rect x="319.78" y="569.58" width="40.09" height="46.01" fill="#461b70"/>
<rect x="358.87" y="569.58" width="40.09" height="46.01" fill="#461f72"/>
<rect x="397.96" y="569.58" width="40.09" height="46.01" fill="#45186d"/>
<rect x="437.05" y="569.58" width="20.54" height="46.01" fill="#461f72"/>
<rect x="456.59" y="569.58" width="20.54" height="46.01" fill="#44156a"/>
<rect x="476.14" y="569.58" width="20.54" height="46.01" fill="#461b70"/>
<rect x="495.68" y="569.58" width="20.54" height="46.01" fill="#48287a"/>
<rect x="515.22" y="569.58" width="20.54" height="46.01" fill="#431367"/>
<rect x="534.77" y="569.58" width="20.54" height="46.01" fill="#410e60"/>
<rect x="554.31" y="569.58" width="20.54" height="46.01" fill="#44156a"/>
<rect x="573.86" y="569.58" width="20.54" height="46.01" fill="#461b70"/>
<rect x="593.4" y="569.58" width="20.54" height="46.01" fill="#461f72"/>
<rect x="612.94" y="569.58" width="20.54" height="46.01" fill="#472275"/>
<rect x="632.49" y="569.58" width="20.54" height="46.01" fill="#4a9690"/>
<rect x="652.03" y="569.58" width="20.54" height="46.01" fill="#4b998f"/>
<rect x="671.58" y="569.58" width="20.54" height="46.01" fill="#410e60"/>
<rect x="691.12" y="569.58" width="20.54" height="46.01" fill="#421064"/>
<rect x="710.66" y="569.58" width="20.54" height="46.01" fill="#3f095a"/>
<rect x="730.21" y="569.58" width="40.09" height="46.01" fill="#482578"/>
<rect x="769.3" y="569.58" width="20.54" height="46.01" fill="#48287a"/>
<rect x="788.84" y="569.58" width="20.54" height="46.01" fill="#461f72"/>
<rect x="808.38" y="569.58" width="40.09" height="46.01" fill="#431367"/>
<rect x="847.47" y="569.58" width="20.54" height="46.01" fill="#461f72"/>
<rect x="867.02" y="569.58" width="20.54" height="46.01" fill="#453e86"/>
<rect x="886.56" y="569.58" width="20.54" height="46.01" fill="#454188"/>
<rect x="906.1" y="569.58" width="20.54" height="46.01" fill="#431367"/>
<rect x="925.65" y="569.58" width="20.54" height="46.01" fill="#45186d"/>
<rect x="945.19" y="569.58" width="20.54" height="46.01" fill="#431367"/>
<rect x="964.74" y="569.58" width="20.54" height="46.01" fill="#473582"/>
<rect x="984.28" y="569.58" width="20.54" height="46.01" fill="#44156a"/>
<rect x="1003.82" y="569.58" width="20.54" height="46.01" fill="#40528e"/>
<rect x="1023.37" y="569.58" width="20.54" height="46.01" fill="#3e6092"/>
<rect x="1042.91" y="569.58" width="20.54" height="46.01" fill="#463b85"/>
<rect x="1062.46" y="569.58" width="20.54" height="46.01" fill="#461b70"/>
<rect x="1082" y="569.58" width="20.54" height="46.01" fill="#472f7e"/>
<rect x="1101.54" y="569.58" width="20.54" height="46.01" fill="#461b70"/>
<rect x="1121.09" y="569.58" width="20.54" height="46.01" fill="#3f095a"/>
<rect x="1140.63" y="569.58" width="20.54" height="46.01" fill="#461f72"/>
<rect x="1160.18" y="569.58" width="20.54" height="46.01" fill="#40558f"/>
<rect x="1179.72" y="569.58" width="20.54" height="46.01" fill="#431367"/>
<rect x="1199.26" y="569.58" width="20.54" height="46.01" fill="#482b7c"/>
<rect x="1218.81" y="569.58" width="20.54" height="46.01" fill="#421064"/>
<rect x="1238.35" y="569.58" width="20.54" height="46.01" fill="#461f72"/>
<rect x="1257.9" y="569.58" width="20.54" height="46.01" fill="#45186d"/>
<rect x="104.8" y="614.59" width="20.54" height="46.01" fill="#44156a"/>
<rect x="124.34" y="614.59" width="40.09" height="46.01" fill="#3f095a"/>
<rect x="163.43" y="614.59" width="20.54" height="46.01" fill="#461f72"/>
<rect x="182.98" y="614.59" width="20.54" height="46.01" fill="#3f095a"/>
<rect x="202.52" y="614.59" width="20.54" height="46.01" fill="#472275"/>
<rect x="222.06" y="614.59" width="40.09" height="46.01" fill="#461f72"/>
<rect x="261.15" y="614.59" width="20.54" height="46.01" fill="#461b70"/>
<rect x="280.7" y="614.59" width="20.54" height="46.01" fill="#472275"/>
<rect x="300.24" y="614.59" width="59.63" height="46.01" fill="#461b70"/>
<rect x="358.87" y="614.59" width="40.09" height="46.01" fill="#44156a"/>
<rect x="397.96" y="614.59" width="40.09" height="46.01" fill="#431367"/>
<rect x="437.05" y="614.59" width="20.54" height="46.01" fill="#44156a"/>
<rect x="456.59" y="614.59" width="20.54" height="46.01" fill="#473280"/>
<rect x="476.14" y="614.59" width="20.54" height="46.01" fill="#461b70"/>
<rect x="495.68" y="614.59" width="20.54" height="46.01" fill="#44156a"/>
<rect x="515.22" y="614.59" width="20.54" height="46.01" fill="#463883"/>
<rect x="534.77" y="614.59" width="20.54" height="46.01" fill="#424a8b"/>
<rect x="554.31" y="614.59" width="20.54" height="46.01" fill="#3e6092"/>
<rect x="573.86" y="614.59" width="20.54" height="46.01" fill="#461b70"/>
<rect x="593.4" y="614.59" width="40.09" height="46.01" fill="#3f095a"/>
<rect x="632.49" y="614.59" width="40.09" height="46.01" fill="#461b70"/>
<rect x="671.58" y="614.59" width="20.54" height="46.01" fill="#461f72"/>
<rect x="691.12" y="614.59" width="20.54" height="46.01" fill="#472275"/>
<rect x="710.66" y="614.59" width="176.9" height="46.01" fill="#45186d"/>
<rect x="886.56" y="614.59" width="20.54" height="46.01" fill="#461b70"/>
<rect x="906.1" y="614.59" width="20.54" height="46.01" fill="#461f72"/>
<rect x="925.65" y="614.59" width="157.35" height="46.01" fill="#3f095a"/>
<rect x="1082" y="614.59" width="20.54" height="46.01" fill="#482b7c"/>
<rect x="1101.54" y="614.59" width="20.54" height="46.01" fill="#461b70"/>
<rect x="1121.09" y="614.59" width="20.54" height="46.01" fill="#472f7e"/>
<rect x="1140.63" y="614.59" width="20.54" height="46.01" fill="#461f72"/>
<rect x="1160.18" y="614.59" width="20.54" height="46.01" fill="#482b7c"/>
<rect x="1179.72" y="614.59" width="20.54" height="46.01" fill="#453e86"/>
<rect x="1199.26" y="614.59" width="20.54" height="46.01" fill="#62cd76"/>
<rect x="1218.81" y="614.59" width="20.54" height="46.01" fill="#461b70"/>
<rect x="1238.35" y="614.59" width="20.54" height="46.01" fill="#482b7c"/>
<rect x="1257.9" y="614.59" width="20.54" height="46.01" fill="#400b5d"/>
<rect x="104.8" y="659.6" width="20.54" height="46.01" fill="#472f7e"/>
<rect x="124.34" y="659.6" width="79.18" height="46.01" fill="#3f095a"/>
<rect x="202.52" y="659.6" width="20.54" height="46.01" fill="#414f8d"/>
<rect x="222.06" y="659.6" width="20.54" height="46.01" fill="#472275"/>
<rect x="241.61" y="659.6" width="20.54" height="46.01" fill="#461b70"/>
<rect x="261.15" y="659.6" width="20.54" height="46.01" fill="#453e86"/>
<rect x="280.7" y="659.6" width="20.54" height="46.01" fill="#447c94"/>
<rect x="300.24" y="659.6" width="20.54" height="46.01" fill="#461f72"/>
<rect x="319.78" y="659.6" width="20.54" height="46.01" fill="#40528e"/>
<rect x="339.33" y="659.6" width="20.54" height="46.01" fill="#3f5890"/>
<rect x="358.87" y="659.6" width="20.54" height="46.01" fill="#461f72"/>
<rect x="378.42" y="659.6" width="40.09" height="46.01" fill="#3f095a"/>
<rect x="417.5" y="659.6" width="40.09" height="46.01" fill="#472275"/>
<rect x="456.59" y="659.6" width="98.72" height="46.01" fill="#3f095a"/>
<rect x="554.31" y="659.6" width="20.54" height="46.01" fill="#444489"/>
<rect x="573.86" y="659.6" width="59.63" height="46.01" fill="#3f095a"/>
<rect x="632.49" y="659.6" width="20.54" height="46.01" fill="#472f7e"/>
<rect x="652.03" y="659.6" width="20.54" height="46.01" fill="#482b7c"/>
<rect x="671.58" y="659.6" width="20.54" height="46.01" fill="#3f095a"/>
<rect x="691.12" y="659.6" width="20.54" height="46.01" fill="#482578"/>
<rect x="710.66" y="659.6" width="20.54" height="46.01" fill="#447c94"/>
<rect x="730.21" y="659.6" width="40.09" height="46.01" fill="#461b70"/>
<rect x="769.3" y="659.6" width="20.54" height="46.01" fill="#463b85"/>
<rect x="788.84" y="659.6" width="372.34" height="46.01" fill="#3f095a"/>
<rect x="1160.18" y="659.6" width="20.54" height="46.01" fill="#482b7c"/>
<rect x="1179.72" y="659.6" width="20.54" height="46.01" fill="#3f095a"/>
<rect x="1199.26" y="659.6" width="20.54" height="46.01" fill="#444489"/>
<rect x="1218.81" y="659.6" width="59.63" height="46.01" fill="#3f095a"/>
<rect x="104.8" y="704.61" width="59.63" height="46.01" fill="#3f095a"/>
<rect x="163.43" y="704.61" width="20.54" height="46.01" fill="#482b7c"/>
<rect x="182.98" y="704.61" width="20.54" height="46.01" fill="#3f095a"/>
<rect x="202.52" y="704.61" width="20.54" height="46.01" fill="#468293"/>
<rect x="222.06" y="704.61" width="20.54" height="46.01" fill="#472f7e"/>
<rect x="241.61" y="704.61" width="20.54" height="46.01" fill="#473280"/>
<rect x="261.15" y="704.61" width="20.54" height="46.01" fill="#48287a"/>
<rect x="280.7" y="704.61" width="20.54" height="46.01" fill="#472275"/>
<rect x="300.24" y="704.61" width="40.09" height="46.01" fill="#482b7c"/>
<rect x="339.33" y="704.61" width="20.54" height="46.01" fill="#3f095a"/>
<rect x="358.87" y="704.61" width="20.54" height="46.01" fill="#40528e"/>
<rect x="378.42" y="704.61" width="20.54" height="46.01" fill="#472275"/>
<rect x="397.96" y="704.61" width="20.54" height="46.01" fill="#3f095a"/>
<rect x="417.5" y="704.61" width="20.54" height="46.01" fill="#473582"/>
<rect x="437.05" y="704.61" width="20.54" height="46.01" fill="#3f095a"/>
<rect x="456.59" y="704.61" width="40.09" height="46.01" fill="#461f72"/>
<rect x="495.68" y="704.61" width="20.54" height="46.01" fill="#421064"/>
<rect x="515.22" y="704.61" width="118.26" height="46.01" fill="#3f095a"/>
<rect x="632.49" y="704.61" width="40.09" height="46.01" fill="#463883"/>
<rect x="671.58" y="704.61" width="20.54" height="46.01" fill="#4ea48c"/>
<rect x="691.12" y="704.61" width="40.09" height="46.01" fill="#461f72"/>
<rect x="730.21" y="704.61" width="40.09" height="46.01" fill="#48287a"/>
<rect x="769.3" y="704.61" width="20.54" height="46.01" fill="#461b70"/>
<rect x="788.84" y="704.61" width="59.63" height="46.01" fill="#45186d"/>
<rect x="847.47" y="704.61" width="20.54" height="46.01" fill="#44156a"/>
<rect x="867.02" y="704.61" width="40.09" height="46.01" fill="#3f095a"/>
<rect x="906.1" y="704.61" width="20.54" height="46.01" fill="#482578"/>
<rect x="925.65" y="704.61" width="176.9" height="46.01" fill="#3f095a"/>
<rect x="1101.54" y="704.61" width="40.09" height="46.01" fill="#472f7e"/>
<rect x="1140.63" y="704.61" width="20.54" height="46.01" fill="#410e60"/>
<rect x="1160.18" y="704.61" width="59.63" height="46.01" fill="#3f095a"/>
<rect x="1218.81" y="704.61" width="20.54" height="46.01" fill="#431367"/>
<rect x="1238.35" y="704.61" width="20.54" height="46.01" fill="#40528e"/>
<rect x="1257.9" y="704.61" width="20.54" height="46.01" fill="#3f095a"/>
<rect x="104.8" y="749.62" width="20.54" height="46.01" fill="#473280"/>
<rect x="124.34" y="749.62" width="40.09" height="46.01" fill="#3f095a"/>
<rect x="163.43" y="749.62" width="20.54" height="46.01" fill="#472f7e"/>
<rect x="182.98" y="749.62" width="20.54" height="46.01" fill="#3f095a"/>
<rect x="202.52" y="749.62" width="20.54" height="46.01" fill="#463b85"/>
<rect x="222.06" y="749.62" width="20.54" height="46.01" fill="#473280"/>
<rect x="241.61" y="749.62" width="40.09" height="46.01" fill="#472f7e"/>
<rect x="280.7" y="749.62" width="20.54" height="46.01" fill="#482b7c"/>
<rect x="300.24" y="749.62" width="40.09" height="46.01" fill="#472f7e"/>
<rect x="339.33" y="749.62" width="59.63" height="46.01" fill="#482b7c"/>
<rect x="397.96" y="749.62" width="20.54" height="46.01" fill="#472275"/>
<rect x="417.5" y="749.62" width="40.09" height="46.01" fill="#48287a"/>
<rect x="456.59" y="749.62" width="79.18" height="46.01" fill="#482578"/>
<rect x="534.77" y="749.62" width="20.54" height="46.01" fill="#482b7c"/>
<rect x="554.31" y="749.62" width="20.54" height="46.01" fill="#453e86"/>
<rect x="573.86" y="749.62" width="20.54" height="46.01" fill="#482578"/>
<rect x="593.4" y="749.62" width="40.09" height="46.01" fill="#3f095a"/>
<rect x="632.49" y="749.62" width="40.09" height="46.01" fill="#473582"/>
<rect x="671.58" y="749.62" width="59.63" height="46.01" fill="#482578"/>
<rect x="730.21" y="749.62" width="40.09" height="46.01" fill="#472f7e"/>
<rect x="769.3" y="749.62" width="20.54" height="46.01" fill="#482b7c"/>
<rect x="788.84" y="749.62" width="20.54" height="46.01" fill="#454188"/>
<rect x="808.38" y="749.62" width="20.54" height="46.01" fill="#463b85"/>
<rect x="827.93" y="749.62" width="20.54" height="46.01" fill="#473280"/>
<rect x="847.47" y="749.62" width="20.54" height="46.01" fill="#43478a"/>
<rect x="867.02" y="749.62" width="20.54" height="46.01" fill="#472275"/>
<rect x="886.56" y="749.62" width="20.54" height="46.01" fill="#48287a"/>
<rect x="906.1" y="749.62" width="59.63" height="46.01" fill="#473280"/>
<rect x="964.74" y="749.62" width="118.26" height="46.01" fill="#3f095a"/>
<rect x="1082" y="749.62" width="20.54" height="46.01" fill="#482578"/>
<rect x="1101.54" y="749.62" width="20.54" height="46.01" fill="#482b7c"/>
<rect x="1121.09" y="749.62" width="20.54" height="46.01" fill="#473582"/>
<rect x="1140.63" y="749.62" width="20.54" height="46.01" fill="#48287a"/>
<rect x="1160.18" y="749.62" width="20.54" height="46.01" fill="#3f095a"/>
<rect x="1179.72" y="749.62" width="20.54" height="46.01" fill="#48287a"/>
<rect x="1199.26" y="749.62" width="20.54" height="46.01" fill="#482578"/>
<rect x="1218.81" y="749.62" width="20.54" height="46.01" fill="#472275"/>
<rect x="1238.35" y="749.62" width="20.54" height="46.01" fill="#3f095a"/>
<rect x="1257.9" y="749.62" width="20.54" height="46.01" fill="#473280"/>
<rect x="104.8" y="794.63" width="20.54" height="46.01" fill="#454188"/>
<rect x="124.34" y="794.63" width="20.54" height="46.01" fill="#463b85"/>
<rect x="143.89" y="794.63" width="40.09" height="46.01" fill="#473280"/>
<rect x="182.98" y="794.63" width="20.54" height="46.01" fill="#3f5890"/>
<rect x="202.52" y="794.63" width="20.54" height="46.01" fill="#482578"/>
<rect x="222.06" y="794.63" width="20.54" height="46.01" fill="#473280"/>
<rect x="241.61" y="794.63" width="20.54" height="46.01" fill="#461f72"/>
<rect x="261.15" y="794.63" width="20.54" height="46.01" fill="#48287a"/>
<rect x="280.7" y="794.63" width="20.54" height="46.01" fill="#3f095a"/>
<rect x="300.24" y="794.63" width="20.54" height="46.01" fill="#453e86"/>
<rect x="319.78" y="794.63" width="20.54" height="46.01" fill="#482578"/>
<rect x="339.33" y="794.63" width="20.54" height="46.01" fill="#463b85"/>
<rect x="358.87" y="794.63" width="20.54" height="46.01" fill="#48287a"/>
<rect x="378.42" y="794.63" width="40.09" height="46.01" fill="#3f095a"/>
<rect x="417.5" y="794.63" width="20.54" height="46.01" fill="#472275"/>
<rect x="437.05" y="794.63" width="20.54" height="46.01" fill="#3f095a"/>
<rect x="456.59" y="794.63" width="20.54" height="46.01" fill="#482b7c"/>
<rect x="476.14" y="794.63" width="59.63" height="46.01" fill="#3f095a"/>
<rect x="534.77" y="794.63" width="20.54" height="46.01" fill="#473280"/>
<rect x="554.31" y="794.63" width="79.18" height="46.01" fill="#3f095a"/>
<rect x="632.49" y="794.63" width="20.54" height="46.01" fill="#472275"/>
<rect x="652.03" y="794.63" width="20.54" height="46.01" fill="#461f72"/>
<rect x="671.58" y="794.63" width="59.63" height="46.01" fill="#3f095a"/>
<rect x="730.21" y="794.63" width="20.54" height="46.01" fill="#463883"/>
<rect x="749.75" y="794.63" width="40.09" height="46.01" fill="#472f7e"/>
<rect x="788.84" y="794.63" width="20.54" height="46.01" fill="#3f095a"/>
<rect x="808.38" y="794.63" width="20.54" height="46.01" fill="#482578"/>
<rect x="827.93" y="794.63" width="20.54" height="46.01" fill="#472f7e"/>
<rect x="847.47" y="794.63" width="255.07" height="46.01" fill="#3f095a"/>
<rect x="1101.54" y="794.63" width="20.54" height="46.01" fill="#40558f"/>
<rect x="1121.09" y="794.63" width="40.09" height="46.01" fill="#3f095a"/>
<rect x="1160.18" y="794.63" width="20.54" height="46.01" fill="#472275"/>
<rect x="1179.72" y="794.63" width="79.18" height="46.01" fill="#3f095a"/>
<rect x="1257.9" y="794.63" width="20.54" height="46.01" fill="#482b7c"/>
<rect x="104.8" y="839.64" width="20.54" height="46.01" fill="#421064"/>
<rect x="124.34" y="839.64" width="59.63" height="46.01" fill="#3f095a"/>
<rect x="182.98" y="839.64" width="20.54" height="46.01" fill="#473280"/>
<rect x="202.52" y="839.64" width="20.54" height="46.01" fill="#473582"/>
<rect x="222.06" y="839.64" width="20.54" height="46.01" fill="#472275"/>
<rect x="241.61" y="839.64" width="20.54" height="46.01" fill="#482b7c"/>
<rect x="261.15" y="839.64" width="20.54" height="46.01" fill="#488c92"/>
<rect x="280.7" y="839.64" width="20.54" height="46.01" fill="#3f095a"/>
<rect x="300.24" y="839.64" width="40.09" height="46.01" fill="#482578"/>
<rect x="339.33" y="839.64" width="20.54" height="46.01" fill="#48287a"/>
<rect x="358.87" y="839.64" width="20.54" height="46.01" fill="#3e6092"/>
<rect x="378.42" y="839.64" width="40.09" height="46.01" fill="#3f095a"/>
<rect x="417.5" y="839.64" width="20.54" height="46.01" fill="#461f72"/>
<rect x="437.05" y="839.64" width="20.54" height="46.01" fill="#431367"/>
<rect x="456.59" y="839.64" width="79.18" height="46.01" fill="#3f095a"/>
<rect x="534.77" y="839.64" width="20.54" height="46.01" fill="#482b7c"/>
<rect x="554.31" y="839.64" width="79.18" height="46.01" fill="#3f095a"/>
<rect x="632.49" y="839.64" width="20.54" height="46.01" fill="#43478a"/>
<rect x="652.03" y="839.64" width="20.54" height="46.01" fill="#40528e"/>
<rect x="671.58" y="839.64" width="20.54" height="46.01" fill="#461f72"/>
<rect x="691.12" y="839.64" width="40.09" height="46.01" fill="#3f095a"/>
<rect x="730.21" y="839.64" width="20.54" height="46.01" fill="#482b7c"/>
<rect x="749.75" y="839.64" width="20.54" height="46.01" fill="#482578"/>
<rect x="769.3" y="839.64" width="20.54" height="46.01" fill="#40558f"/>
<rect x="788.84" y="839.64" width="79.18" height="46.01" fill="#461b70"/>
<rect x="867.02" y="839.64" width="20.54" height="46.01" fill="#482578"/>
<rect x="886.56" y="839.64" width="20.54" height="46.01" fill="#482b7c"/>
<rect x="906.1" y="839.64" width="196.44" height="46.01" fill="#3f095a"/>
<rect x="1101.54" y="839.64" width="20.54" height="46.01" fill="#48287a"/>
<rect x="1121.09" y="839.64" width="40.09" height="46.01" fill="#3f095a"/>
<rect x="1160.18" y="839.64" width="20.54" height="46.01" fill="#444489"/>
<rect x="1179.72" y="839.64" width="40.09" height="46.01" fill="#3f095a"/>
<rect x="1218.81" y="839.64" width="20.54" height="46.01" fill="#461f72"/>
<rect x="1238.35" y="839.64" width="40.09" height="46.01" fill="#3f095a"/>
<rect x="104.8" y="884.65" width="20.54" height="46.01" fill="#472f7e"/>
<rect x="124.34" y="884.65" width="79.18" height="46.01" fill="#3f095a"/>
<rect x="202.52" y="884.65" width="20.54" height="46.01" fill="#421064"/>
<rect x="222.06" y="884.65" width="20.54" height="46.01" fill="#453e86"/>
<rect x="241.61" y="884.65" width="20.54" height="46.01" fill="#40558f"/>
<rect x="261.15" y="884.65" width="20.54" height="46.01" fill="#431367"/>
<rect x="280.7" y="884.65" width="20.54" height="46.01" fill="#3f095a"/>
<rect x="300.24" y="884.65" width="20.54" height="46.01" fill="#463883"/>
<rect x="319.78" y="884.65" width="20.54" height="46.01" fill="#472f7e"/>
<rect x="339.33" y="884.65" width="20.54" height="46.01" fill="#461f72"/>
<rect x="358.87" y="884.65" width="20.54" height="46.01" fill="#447c94"/>
<rect x="378.42" y="884.65" width="20.54" height="46.01" fill="#3f095a"/>
<rect x="397.96" y="884.65" width="20.54" height="46.01" fill="#421064"/>
<rect x="417.5" y="884.65" width="20.54" height="46.01" fill="#461b70"/>
<rect x="437.05" y="884.65" width="20.54" height="46.01" fill="#482b7c"/>
<rect x="456.59" y="884.65" width="20.54" height="46.01" fill="#3f095a"/>
<rect x="476.14" y="884.65" width="20.54" height="46.01" fill="#431367"/>
<rect x="495.68" y="884.65" width="20.54" height="46.01" fill="#421064"/>
<rect x="515.22" y="884.65" width="20.54" height="46.01" fill="#461f72"/>
<rect x="534.77" y="884.65" width="40.09" height="46.01" fill="#431367"/>
<rect x="573.86" y="884.65" width="59.63" height="46.01" fill="#3f095a"/>
<rect x="632.49" y="884.65" width="20.54" height="46.01" fill="#473280"/>
<rect x="652.03" y="884.65" width="40.09" height="46.01" fill="#431367"/>
<rect x="691.12" y="884.65" width="40.09" height="46.01" fill="#3f095a"/>
<rect x="730.21" y="884.65" width="20.54" height="46.01" fill="#472275"/>
<rect x="749.75" y="884.65" width="20.54" height="46.01" fill="#3f5a90"/>
<rect x="769.3" y="884.65" width="20.54" height="46.01" fill="#482b7c"/>
<rect x="788.84" y="884.65" width="20.54" height="46.01" fill="#431367"/>
<rect x="808.38" y="884.65" width="40.09" height="46.01" fill="#421064"/>
<rect x="847.47" y="884.65" width="20.54" height="46.01" fill="#431367"/>
<rect x="867.02" y="884.65" width="20.54" height="46.01" fill="#44156a"/>
<rect x="886.56" y="884.65" width="20.54" height="46.01" fill="#461b70"/>
<rect x="906.1" y="884.65" width="196.44" height="46.01" fill="#3f095a"/>
<rect x="1101.54" y="884.65" width="20.54" height="46.01" fill="#421064"/>
<rect x="1121.09" y="884.65" width="20.54" height="46.01" fill="#3f095a"/>
<rect x="1140.63" y="884.65" width="20.54" height="46.01" fill="#410e60"/>
<rect x="1160.18" y="884.65" width="40.09" height="46.01" fill="#3f095a"/>
<rect x="1199.26" y="884.65" width="20.54" height="46.01" fill="#431367"/>
<rect x="1218.81" y="884.65" width="20.54" height="46.01" fill="#45186d"/>
<rect x="1238.35" y="884.65" width="40.09" height="46.01" fill="#3f095a"/>
<rect x="104.8" y="929.66" width="20.54" height="46.01" fill="#482578"/>
<rect x="124.34" y="929.66" width="79.18" height="46.01" fill="#3f095a"/>
<rect x="202.52" y="929.66" width="20.54" height="46.01" fill="#482b7c"/>
<rect x="222.06" y="929.66" width="20.54" height="46.01" fill="#48287a"/>
<rect x="241.61" y="929.66" width="20.54" height="46.01" fill="#482578"/>
<rect x="261.15" y="929.66" width="20.54" height="46.01" fill="#482b7c"/>
<rect x="280.7" y="929.66" width="20.54" height="46.01" fill="#3f095a"/>
<rect x="300.24" y="929.66" width="20.54" height="46.01" fill="#48287a"/>
<rect x="319.78" y="929.66" width="20.54" height="46.01" fill="#473582"/>
<rect x="339.33" y="929.66" width="20.54" height="46.01" fill="#473280"/>
<rect x="358.87" y="929.66" width="20.54" height="46.01" fill="#472f7e"/>
<rect x="378.42" y="929.66" width="40.09" height="46.01" fill="#3f095a"/>
<rect x="417.5" y="929.66" width="40.09" height="46.01" fill="#482b7c"/>
<rect x="456.59" y="929.66" width="176.9" height="46.01" fill="#3f095a"/>
<rect x="632.49" y="929.66" width="40.09" height="46.01" fill="#473280"/>
<rect x="671.58" y="929.66" width="59.63" height="46.01" fill="#3f095a"/>
<rect x="730.21" y="929.66" width="20.54" height="46.01" fill="#461f72"/>
<rect x="749.75" y="929.66" width="20.54" height="46.01" fill="#482b7c"/>
<rect x="769.3" y="929.66" width="20.54" height="46.01" fill="#472f7e"/>
<rect x="788.84" y="929.66" width="372.34" height="46.01" fill="#3f095a"/>
<rect x="1160.18" y="929.66" width="20.54" height="46.01" fill="#482578"/>
<rect x="1179.72" y="929.66" width="98.72" height="46.01" fill="#3f095a"/>
<rect x="104.8" y="974.67" width="20.54" height="46.01" fill="#40528e"/>
<rect x="124.34" y="974.67" width="40.09" height="46.01" fill="#3f095a"/>
<rect x="163.43" y="974.67" width="20.54" height="46.01" fill="#472275"/>
<rect x="182.98" y="974.67" width="20.54" height="46.01" fill="#3f095a"/>
<rect x="202.52" y="974.67" width="20.54" height="46.01" fill="#461f72"/>
<rect x="222.06" y="974.67" width="20.54" height="46.01" fill="#463b85"/>
<rect x="241.61" y="974.67" width="20.54" height="46.01" fill="#463883"/>
<rect x="261.15" y="974.67" width="20.54" height="46.01" fill="#43478a"/>
<rect x="280.7" y="974.67" width="20.54" height="46.01" fill="#44156a"/>
<rect x="300.24" y="974.67" width="20.54" height="46.01" fill="#48287a"/>
<rect x="319.78" y="974.67" width="40.09" height="46.01" fill="#3f095a"/>
<rect x="358.87" y="974.67" width="20.54" height="46.01" fill="#473280"/>
<rect x="378.42" y="974.67" width="20.54" height="46.01" fill="#414f8d"/>
<rect x="397.96" y="974.67" width="20.54" height="46.01" fill="#427694"/>
<rect x="417.5" y="974.67" width="20.54" height="46.01" fill="#472f7e"/>
<rect x="437.05" y="974.67" width="20.54" height="46.01" fill="#482b7c"/>
<rect x="456.59" y="974.67" width="40.09" height="46.01" fill="#3f095a"/>
<rect x="495.68" y="974.67" width="20.54" height="46.01" fill="#482b7c"/>
<rect x="515.22" y="974.67" width="20.54" height="46.01" fill="#3f095a"/>
<rect x="534.77" y="974.67" width="20.54" height="46.01" fill="#482b7c"/>
<rect x="554.31" y="974.67" width="137.81" height="46.01" fill="#3f095a"/>
<rect x="691.12" y="974.67" width="20.54" height="46.01" fill="#472275"/>
<rect x="710.66" y="974.67" width="20.54" height="46.01" fill="#431367"/>
<rect x="730.21" y="974.67" width="20.54" height="46.01" fill="#461f72"/>
<rect x="749.75" y="974.67" width="20.54" height="46.01" fill="#472275"/>
<rect x="769.3" y="974.67" width="313.7" height="46.01" fill="#3f095a"/>
<rect x="1082" y="974.67" width="20.54" height="46.01" fill="#3f6693"/>
<rect x="1101.54" y="974.67" width="20.54" height="46.01" fill="#482578"/>
<rect x="1121.09" y="974.67" width="20.54" height="46.01" fill="#3f095a"/>
<rect x="1140.63" y="974.67" width="20.54" height="46.01" fill="#473582"/>
<rect x="1160.18" y="974.67" width="20.54" height="46.01" fill="#482578"/>
<rect x="1179.72" y="974.67" width="98.72" height="46.01" fill="#3f095a"/>
<rect x="104.8" y="1019.68" width="20.54" height="46.01" fill="#473280"/>
<rect x="124.34" y="1019.68" width="79.18" height="46.01" fill="#3f095a"/>
<rect x="202.52" y="1019.68" width="20.54" height="46.01" fill="#461f72"/>
<rect x="222.06" y="1019.68" width="20.54" height="46.01" fill="#421064"/>
<rect x="241.61" y="1019.68" width="20.54" height="46.01" fill="#461f72"/>
<rect x="261.15" y="1019.68" width="20.54" height="46.01" fill="#463883"/>
<rect x="280.7" y="1019.68" width="40.09" height="46.01" fill="#461f72"/>
<rect x="319.78" y="1019.68" width="40.09" height="46.01" fill="#3f095a"/>
<rect x="358.87" y="1019.68" width="20.54" height="46.01" fill="#463b85"/>
<rect x="378.42" y="1019.68" width="20.54" height="46.01" fill="#414f8d"/>
<rect x="397.96" y="1019.68" width="20.54" height="46.01" fill="#473582"/>
<rect x="417.5" y="1019.68" width="20.54" height="46.01" fill="#40558f"/>
<rect x="437.05" y="1019.68" width="20.54" height="46.01" fill="#444489"/>
<rect x="456.59" y="1019.68" width="235.53" height="46.01" fill="#3f095a"/>
<rect x="691.12" y="1019.68" width="20.54" height="46.01" fill="#472f7e"/>
<rect x="710.66" y="1019.68" width="20.54" height="46.01" fill="#472275"/>
<rect x="730.21" y="1019.68" width="20.54" height="46.01" fill="#461b70"/>
<rect x="749.75" y="1019.68" width="20.54" height="46.01" fill="#472275"/>
<rect x="769.3" y="1019.68" width="352.79" height="46.01" fill="#3f095a"/>
<rect x="1121.09" y="1019.68" width="40.09" height="46.01" fill="#48287a"/>
<rect x="1160.18" y="1019.68" width="118.26" height="46.01" fill="#3f095a"/>
<rect x="104.8" y="1064.69" width="20.54" height="46.01" fill="#461f72"/>
<rect x="124.34" y="1064.69" width="79.18" height="46.01" fill="#3f095a"/>
<rect x="202.52" y="1064.69" width="20.54" height="46.01" fill="#461b70"/>
<rect x="222.06" y="1064.69" width="20.54" height="46.01" fill="#473582"/>
<rect x="241.61" y="1064.69" width="20.54" height="46.01" fill="#461b70"/>
<rect x="261.15" y="1064.69" width="20.54" height="46.01" fill="#3f095a"/>
<rect x="280.7" y="1064.69" width="20.54" height="46.01" fill="#461f72"/>
<rect x="300.24" y="1064.69" width="20.54" height="46.01" fill="#472275"/>
<rect x="319.78" y="1064.69" width="40.09" height="46.01" fill="#3f095a"/>
<rect x="358.87" y="1064.69" width="20.54" height="46.01" fill="#4c9c8e"/>
<rect x="378.42" y="1064.69" width="20.54" height="46.01" fill="#473582"/>
<rect x="397.96" y="1064.69" width="20.54" height="46.01" fill="#461f72"/>
<rect x="417.5" y="1064.69" width="20.54" height="46.01" fill="#482578"/>
<rect x="437.05" y="1064.69" width="20.54" height="46.01" fill="#461b70"/>
<rect x="456.59" y="1064.69" width="40.09" height="46.01" fill="#3f095a"/>
<rect x="495.68" y="1064.69" width="20.54" height="46.01" fill="#461b70"/>
<rect x="515.22" y="1064.69" width="176.9" height="46.01" fill="#3f095a"/>
<rect x="691.12" y="1064.69" width="20.54" height="46.01" fill="#461f72"/>
<rect x="710.66" y="1064.69" width="20.54" height="46.01" fill="#472f7e"/>
<rect x="730.21" y="1064.69" width="20.54" height="46.01" fill="#3f095a"/>
<rect x="749.75" y="1064.69" width="20.54" height="46.01" fill="#45186d"/>
<rect x="769.3" y="1064.69" width="98.72" height="46.01" fill="#3f095a"/>
<rect x="867.02" y="1064.69" width="20.54" height="46.01" fill="#461b70"/>
<rect x="886.56" y="1064.69" width="215.98" height="46.01" fill="#3f095a"/>
<rect x="1101.54" y="1064.69" width="20.54" height="46.01" fill="#421064"/>
<rect x="1121.09" y="1064.69" width="20.54" height="46.01" fill="#453e86"/>
<rect x="1140.63" y="1064.69" width="20.54" height="46.01" fill="#461f72"/>
<rect x="1160.18" y="1064.69" width="118.26" height="46.01" fill="#3f095a"/>
<rect x="104.8" y="1109.7" width="98.72" height="46.01" fill="#3f095a"/>
<rect x="202.52" y="1109.7" width="20.54" height="46.01" fill="#461f72"/>
<rect x="222.06" y="1109.7" width="20.54" height="46.01" fill="#444489"/>
<rect x="241.61" y="1109.7" width="20.54" height="46.01" fill="#461f72"/>
<rect x="261.15" y="1109.7" width="20.54" height="46.01" fill="#3f095a"/>
<rect x="280.7" y="1109.7" width="20.54" height="46.01" fill="#472f7e"/>
<rect x="300.24" y="1109.7" width="118.26" height="46.01" fill="#3f095a"/>
<rect x="417.5" y="1109.7" width="20.54" height="46.01" fill="#461f72"/>
<rect x="437.05" y="1109.7" width="255.07" height="46.01" fill="#3f095a"/>
<rect x="691.12" y="1109.7" width="20.54" height="46.01" fill="#482578"/>
<rect x="710.66" y="1109.7" width="20.54" height="46.01" fill="#48287a"/>
<rect x="730.21" y="1109.7" width="176.9" height="46.01" fill="#3f095a"/>
<rect x="906.1" y="1109.7" width="59.63" height="46.01" fill="#463883"/>
<rect x="964.74" y="1109.7" width="118.26" height="46.01" fill="#3f095a"/>
<rect x="1082" y="1109.7" width="20.54" height="46.01" fill="#482b7c"/>
<rect x="1101.54" y="1109.7" width="20.54" height="46.01" fill="#4a9690"/>
<rect x="1121.09" y="1109.7" width="20.54" height="46.01" fill="#3f095a"/>
<rect x="1140.63" y="1109.7" width="20.54" height="46.01" fill="#461b70"/>
<rect x="1160.18" y="1109.7" width="20.54" height="46.01" fill="#3f095a"/>
<rect x="1179.72" y="1109.7" width="20.54" height="46.01" fill="#463b85"/>
<rect x="1199.26" y="1109.7" width="20.54" height="46.01" fill="#482578"/>
<rect x="1218.81" y="1109.7" width="59.63" height="46.01" fill="#3f095a"/>
<rect x="104.8" y="1154.71" width="118.26" height="46.01" fill="#3f095a"/>
<rect x="222.06" y="1154.71" width="20.54" height="46.01" fill="#482b7c"/>
<rect x="241.61" y="1154.71" width="20.54" height="46.01" fill="#473280"/>
<rect x="261.15" y="1154.71" width="20.54" height="46.01" fill="#3f095a"/>
<rect x="280.7" y="1154.71" width="20.54" height="46.01" fill="#473280"/>
<rect x="300.24" y="1154.71" width="20.54" height="46.01" fill="#472f7e"/>
<rect x="319.78" y="1154.71" width="20.54" height="46.01" fill="#472275"/>
<rect x="339.33" y="1154.71" width="40.09" height="46.01" fill="#3f095a"/>
<rect x="378.42" y="1154.71" width="20.54" height="46.01" fill="#463883"/>
<rect x="397.96" y="1154.71" width="20.54" height="46.01" fill="#3f095a"/>
<rect x="417.5" y="1154.71" width="20.54" height="46.01" fill="#473280"/>
<rect x="437.05" y="1154.71" width="40.09" height="46.01" fill="#3f095a"/>
<rect x="476.14" y="1154.71" width="20.54" height="46.01" fill="#473582"/>
<rect x="495.68" y="1154.71" width="20.54" height="46.01" fill="#463883"/>
<rect x="515.22" y="1154.71" width="20.54" height="46.01" fill="#3f095a"/>
<rect x="534.77" y="1154.71" width="20.54" height="46.01" fill="#473280"/>
<rect x="554.31" y="1154.71" width="20.54" height="46.01" fill="#463883"/>
<rect x="573.86" y="1154.71" width="118.26" height="46.01" fill="#3f095a"/>
<rect x="691.12" y="1154.71" width="20.54" height="46.01" fill="#473280"/>
<rect x="710.66" y="1154.71" width="411.42" height="46.01" fill="#3f095a"/>
<rect x="1121.09" y="1154.71" width="20.54" height="46.01" fill="#472f7e"/>
<rect x="1140.63" y="1154.71" width="20.54" height="46.01" fill="#48287a"/>
<rect x="1160.18" y="1154.71" width="59.63" height="46.01" fill="#3f095a"/>
<rect x="1218.81" y="1154.71" width="20.54" height="46.01" fill="#482578"/>
<rect x="1238.35" y="1154.71" width="40.09" height="46.01" fill="#3f095a"/>
<rect x="104.8" y="1199.72" width="20.54" height="46.01" fill="#461f72"/>
<rect x="124.34" y="1199.72" width="79.18" height="46.01" fill="#3f095a"/>
<rect x="202.52" y="1199.72" width="20.54" height="46.01" fill="#482b7c"/>
<rect x="222.06" y="1199.72" width="40.09" height="46.01" fill="#3f095a"/>
<rect x="261.15" y="1199.72" width="20.54" height="46.01" fill="#431367"/>
<rect x="280.7" y="1199.72" width="20.54" height="46.01" fill="#461f72"/>
<rect x="300.24" y="1199.72" width="20.54" height="46.01" fill="#3f095a"/>
<rect x="319.78" y="1199.72" width="20.54" height="46.01" fill="#472275"/>
<rect x="339.33" y="1199.72" width="20.54" height="46.01" fill="#461b70"/>
<rect x="358.87" y="1199.72" width="40.09" height="46.01" fill="#3f095a"/>
<rect x="397.96" y="1199.72" width="20.54" height="46.01" fill="#472275"/>
<rect x="417.5" y="1199.72" width="20.54" height="46.01" fill="#3f095a"/>
<rect x="437.05" y="1199.72" width="20.54" height="46.01" fill="#461b70"/>
<rect x="456.59" y="1199.72" width="20.54" height="46.01" fill="#3f095a"/>
<rect x="476.14" y="1199.72" width="20.54" height="46.01" fill="#45186d"/>
<rect x="495.68" y="1199.72" width="40.09" height="46.01" fill="#3f095a"/>
<rect x="534.77" y="1199.72" width="20.54" height="46.01" fill="#472275"/>
<rect x="554.31" y="1199.72" width="20.54" height="46.01" fill="#461f72"/>
<rect x="573.86" y="1199.72" width="59.63" height="46.01" fill="#3f095a"/>
<rect x="632.49" y="1199.72" width="20.54" height="46.01" fill="#482578"/>
<rect x="652.03" y="1199.72" width="20.54" height="46.01" fill="#472f7e"/>
<rect x="671.58" y="1199.72" width="20.54" height="46.01" fill="#482b7c"/>
<rect x="691.12" y="1199.72" width="20.54" height="46.01" fill="#463b85"/>
<rect x="710.66" y="1199.72" width="20.54" height="46.01" fill="#461f72"/>
<rect x="730.21" y="1199.72" width="20.54" height="46.01" fill="#45186d"/>
<rect x="749.75" y="1199.72" width="40.09" height="46.01" fill="#3f095a"/>
<rect x="788.84" y="1199.72" width="20.54" height="46.01" fill="#461b70"/>
<rect x="808.38" y="1199.72" width="20.54" height="46.01" fill="#45186d"/>
<rect x="827.93" y="1199.72" width="20.54" height="46.01" fill="#3f095a"/>
<rect x="847.47" y="1199.72" width="20.54" height="46.01" fill="#45186d"/>
<rect x="867.02" y="1199.72" width="20.54" height="46.01" fill="#472275"/>
<rect x="886.56" y="1199.72" width="255.07" height="46.01" fill="#3f095a"/>
<rect x="1140.63" y="1199.72" width="20.54" height="46.01" fill="#461b70"/>
<rect x="1160.18" y="1199.72" width="40.09" height="46.01" fill="#3f095a"/>
<rect x="1199.26" y="1199.72" width="20.54" height="46.01" fill="#461f72"/>
<rect x="1218.81" y="1199.72" width="20.54" height="46.01" fill="#482578"/>
<rect x="1238.35" y="1199.72" width="40.09" height="46.01" fill="#3f095a"/>
<rect x="104.8" y="1244.73" width="98.72" height="46.01" fill="#3f095a"/>
<rect x="202.52" y="1244.73" width="20.54" height="46.01" fill="#461b70"/>
<rect x="222.06" y="1244.73" width="59.63" height="46.01" fill="#3f095a"/>
<rect x="280.7" y="1244.73" width="20.54" height="46.01" fill="#461b70"/>
<rect x="300.24" y="1244.73" width="20.54" height="46.01" fill="#3f095a"/>
<rect x="319.78" y="1244.73" width="20.54" height="46.01" fill="#482578"/>
<rect x="339.33" y="1244.73" width="40.09" height="46.01" fill="#3f095a"/>
<rect x="378.42" y="1244.73" width="20.54" height="46.01" fill="#472275"/>
<rect x="397.96" y="1244.73" width="118.26" height="46.01" fill="#3f095a"/>
<rect x="515.22" y="1244.73" width="20.54" height="46.01" fill="#472f7e"/>
<rect x="534.77" y="1244.73" width="157.35" height="46.01" fill="#3f095a"/>
<rect x="691.12" y="1244.73" width="20.54" height="46.01" fill="#472275"/>
<rect x="710.66" y="1244.73" width="20.54" height="46.01" fill="#461f72"/>
<rect x="730.21" y="1244.73" width="137.81" height="46.01" fill="#3f095a"/>
<rect x="867.02" y="1244.73" width="20.54" height="46.01" fill="#482578"/>
<rect x="886.56" y="1244.73" width="333.25" height="46.01" fill="#3f095a"/>
<rect x="1218.81" y="1244.73" width="20.54" height="46.01" fill="#472275"/>
<rect x="1238.35" y="1244.73" width="40.09" height="46.01" fill="#3f095a"/>
<rect x="104.8" y="1289.74" width="98.72" height="46.01" fill="#3f095a"/>
<rect x="202.52" y="1289.74" width="20.54" height="46.01" fill="#472f7e"/>
<rect x="222.06" y="1289.74" width="59.63" height="46.01" fill="#3f095a"/>
<rect x="280.7" y="1289.74" width="20.54" height="46.01" fill="#473582"/>
<rect x="300.24" y="1289.74" width="79.18" height="46.01" fill="#3f095a"/>
<rect x="378.42" y="1289.74" width="20.54" height="46.01" fill="#472f7e"/>
<rect x="397.96" y="1289.74" width="79.18" height="46.01" fill="#3f095a"/>
<rect x="476.14" y="1289.74" width="20.54" height="46.01" fill="#473280"/>
<rect x="495.68" y="1289.74" width="196.44" height="46.01" fill="#3f095a"/>
<rect x="691.12" y="1289.74" width="20.54" height="46.01" fill="#482b7c"/>
<rect x="710.66" y="1289.74" width="20.54" height="46.01" fill="#473280"/>
<rect x="730.21" y="1289.74" width="548.23" height="46.01" fill="#3f095a"/>
<rect x="104.8" y="1334.75" width="98.72" height="46.01" fill="#3f095a"/>
<rect x="202.52" y="1334.75" width="20.54" height="46.01" fill="#472f7e"/>
<rect x="222.06" y="1334.75" width="157.35" height="46.01" fill="#3f095a"/>
<rect x="378.42" y="1334.75" width="20.54" height="46.01" fill="#473582"/>
<rect x="397.96" y="1334.75" width="294.16" height="46.01" fill="#3f095a"/>
<rect x="691.12" y="1334.75" width="20.54" height="46.01" fill="#463883"/>
<rect x="710.66" y="1334.75" width="567.78" height="46.01" fill="#3f095a"/>
<rect x="104.8" y="1379.76" width="274.62" height="46.01" fill="#3f095a"/>
<rect x="378.42" y="1379.76" width="20.54" height="46.01" fill="#473280"/>
<rect x="397.96" y="1379.76" width="20.54" height="46.01" fill="#473582"/>
<rect x="417.5" y="1379.76" width="79.18" height="46.01" fill="#3f095a"/>
<rect x="495.68" y="1379.76" width="20.54" height="46.01" fill="#473280"/>
<rect x="515.22" y="1379.76" width="176.9" height="46.01" fill="#3f095a"/>
<rect x="691.12" y="1379.76" width="20.54" height="46.01" fill="#473280"/>
<rect x="710.66" y="1379.76" width="79.18" height="46.01" fill="#3f095a"/>
<rect x="788.84" y="1379.76" width="59.63" height="46.01" fill="#473582"/>
<rect x="847.47" y="1379.76" width="235.53" height="46.01" fill="#3f095a"/>
<rect x="1082" y="1379.76" width="59.63" height="46.01" fill="#473280"/>
<rect x="1140.63" y="1379.76" width="20.54" height="46.01" fill="#472f7e"/>
<rect x="1160.18" y="1379.76" width="118.26" height="46.01" fill="#3f095a"/>
<rect x="104.8" y="1424.77" width="20.54" height="46.01" fill="#453e86"/>
<rect x="124.34" y="1424.77" width="196.44" height="46.01" fill="#3f095a"/>
<rect x="319.78" y="1424.77" width="20.54" height="46.01" fill="#461f72"/>
<rect x="339.33" y="1424.77" width="20.54" height="46.01" fill="#45186d"/>
<rect x="358.87" y="1424.77" width="20.54" height="46.01" fill="#472f7e"/>
<rect x="378.42" y="1424.77" width="59.63" height="46.01" fill="#3f095a"/>
<rect x="437.05" y="1424.77" width="20.54" height="46.01" fill="#463883"/>
<rect x="456.59" y="1424.77" width="40.09" height="46.01" fill="#3f095a"/>
<rect x="495.68" y="1424.77" width="20.54" height="46.01" fill="#461f72"/>
<rect x="515.22" y="1424.77" width="274.62" height="46.01" fill="#3f095a"/>
<rect x="788.84" y="1424.77" width="20.54" height="46.01" fill="#48287a"/>
<rect x="808.38" y="1424.77" width="20.54" height="46.01" fill="#461f72"/>
<rect x="827.93" y="1424.77" width="20.54" height="46.01" fill="#472275"/>
<rect x="847.47" y="1424.77" width="20.54" height="46.01" fill="#482578"/>
<rect x="867.02" y="1424.77" width="20.54" height="46.01" fill="#461f72"/>
<rect x="886.56" y="1424.77" width="20.54" height="46.01" fill="#461b70"/>
<rect x="906.1" y="1424.77" width="196.44" height="46.01" fill="#3f095a"/>
<rect x="1101.54" y="1424.77" width="20.54" height="46.01" fill="#45186d"/>
<rect x="1121.09" y="1424.77" width="20.54" height="46.01" fill="#3f095a"/>
<rect x="1140.63" y="1424.77" width="20.54" height="46.01" fill="#45186d"/>
<rect x="1160.18" y="1424.77" width="118.26" height="46.01" fill="#3f095a"/>
<rect x="104.8" y="1469.78" width="20.54" height="46.01" fill="#482b7c"/>
<rect x="124.34" y="1469.78" width="98.72" height="46.01" fill="#3f095a"/>
<rect x="222.06" y="1469.78" width="20.54" height="46.01" fill="#482b7c"/>
<rect x="241.61" y="1469.78" width="20.54" height="46.01" fill="#473280"/>
<rect x="261.15" y="1469.78" width="40.09" height="46.01" fill="#3f095a"/>
<rect x="300.24" y="1469.78" width="20.54" height="46.01" fill="#473280"/>
<rect x="319.78" y="1469.78" width="40.09" height="46.01" fill="#3f095a"/>
<rect x="358.87" y="1469.78" width="20.54" height="46.01" fill="#472f7e"/>
<rect x="378.42" y="1469.78" width="59.63" height="46.01" fill="#3f095a"/>
<rect x="437.05" y="1469.78" width="20.54" height="46.01" fill="#482578"/>
<rect x="456.59" y="1469.78" width="274.62" height="46.01" fill="#3f095a"/>
<rect x="730.21" y="1469.78" width="20.54" height="46.01" fill="#472f7e"/>
<rect x="749.75" y="1469.78" width="528.69" height="46.01" fill="#3f095a"/>
<rect x="104.8" y="1514.79" width="411.42" height="46.01" fill="#3f095a"/>
<rect x="515.22" y="1514.79" width="20.54" height="46.01" fill="#461f72"/>
<rect x="534.77" y="1514.79" width="20.54" height="46.01" fill="#461b70"/>
<rect x="554.31" y="1514.79" width="20.54" height="46.01" fill="#3f095a"/>
<rect x="573.86" y="1514.79" width="20.54" height="46.01" fill="#444489"/>
<rect x="593.4" y="1514.79" width="391.88" height="46.01" fill="#3f095a"/>
<rect x="984.28" y="1514.79" width="20.54" height="46.01" fill="#473280"/>
<rect x="1003.82" y="1514.79" width="274.62" height="46.01" fill="#3f095a"/>
<rect x="104.8" y="1559.8" width="470.06" height="46.01" fill="#3f095a"/>
<rect x="573.86" y="1559.8" width="20.54" height="46.01" fill="#472f7e"/>
<rect x="593.4" y="1559.8" width="411.42" height="46.01" fill="#3f095a"/>
<rect x="1003.82" y="1559.8" width="40.09" height="46.01" fill="#472275"/>
<rect x="1042.91" y="1559.8" width="20.54" height="46.01" fill="#461f72"/>
<rect x="1062.46" y="1559.8" width="20.54" height="46.01" fill="#472275"/>
<rect x="1082" y="1559.8" width="196.44" height="46.01" fill="#3f095a"/>
<rect x="104.8" y="1604.81" width="20.54" height="46.01" fill="#461f72"/>
<rect x="124.34" y="1604.81" width="176.9" height="46.01" fill="#3f095a"/>
<rect x="300.24" y="1604.81" width="20.54" height="46.01" fill="#410e60"/>
<rect x="319.78" y="1604.81" width="59.63" height="46.01" fill="#3f095a"/>
<rect x="378.42" y="1604.81" width="40.09" height="46.01" fill="#410e60"/>
<rect x="417.5" y="1604.81" width="20.54" height="46.01" fill="#3f095a"/>
<rect x="437.05" y="1604.81" width="20.54" height="46.01" fill="#44156a"/>
<rect x="456.59" y="1604.81" width="40.09" height="46.01" fill="#3f095a"/>
<rect x="495.68" y="1604.81" width="20.54" height="46.01" fill="#410e60"/>
<rect x="515.22" y="1604.81" width="157.35" height="46.01" fill="#3f095a"/>
<rect x="671.58" y="1604.81" width="20.54" height="46.01" fill="#410e60"/>
<rect x="691.12" y="1604.81" width="20.54" height="46.01" fill="#421064"/>
<rect x="710.66" y="1604.81" width="79.18" height="46.01" fill="#3f095a"/>
<rect x="788.84" y="1604.81" width="98.72" height="46.01" fill="#421064"/>
<rect x="886.56" y="1604.81" width="20.54" height="46.01" fill="#410e60"/>
<rect x="906.1" y="1604.81" width="196.44" height="46.01" fill="#3f095a"/>
<rect x="1101.54" y="1604.81" width="20.54" height="46.01" fill="#410e60"/>
<rect x="1121.09" y="1604.81" width="20.54" height="46.01" fill="#3f095a"/>
<rect x="1140.63" y="1604.81" width="20.54" height="46.01" fill="#421064"/>
<rect x="1160.18" y="1604.81" width="59.63" height="46.01" fill="#3f095a"/>
<rect x="1218.81" y="1604.81" width="20.54" height="46.01" fill="#410e60"/>
<rect x="1238.35" y="1604.81" width="40.09" height="46.01" fill="#3f095a"/>
<rect x="104.8" y="1649.82" width="587.32" height="46.01" fill="#3f095a"/>
<rect x="691.12" y="1649.82" width="20.54" height="46.01" fill="#44156a"/>
<rect x="710.66" y="1649.82" width="567.78" height="46.01" fill="#3f095a"/>
<rect x="104.8" y="1694.83" width="98.72" height="46.01" fill="#3f095a"/>
<rect x="202.52" y="1694.83" width="20.54" height="46.01" fill="#488c92"/>
<rect x="222.06" y="1694.83" width="137.81" height="46.01" fill="#3f095a"/>
<rect x="358.87" y="1694.83" width="20.54" height="46.01" fill="#482578"/>
<rect x="378.42" y="1694.83" width="255.07" height="46.01" fill="#3f095a"/>
<rect x="632.49" y="1694.83" width="40.09" height="46.01" fill="#472f7e"/>
<rect x="671.58" y="1694.83" width="59.63" height="46.01" fill="#3f095a"/>
<rect x="730.21" y="1694.83" width="20.54" height="46.01" fill="#482b7c"/>
<rect x="749.75" y="1694.83" width="528.69" height="46.01" fill="#3f095a"/>
<rect x="104.8" y="1739.84" width="20.54" height="46.01" fill="#473582"/>
<rect x="124.34" y="1739.84" width="98.72" height="46.01" fill="#3f095a"/>
<rect x="222.06" y="1739.84" width="20.54" height="46.01" fill="#473280"/>
<rect x="241.61" y="1739.84" width="98.72" height="46.01" fill="#3f095a"/>
<rect x="339.33" y="1739.84" width="20.54" height="46.01" fill="#453e86"/>
<rect x="358.87" y="1739.84" width="20.54" height="46.01" fill="#3f095a"/>
<rect x="378.42" y="1739.84" width="20.54" height="46.01" fill="#482578"/>
<rect x="397.96" y="1739.84" width="40.09" height="46.01" fill="#472f7e"/>
<rect x="437.05" y="1739.84" width="20.54" height="46.01" fill="#473582"/>
<rect x="456.59" y="1739.84" width="20.54" height="46.01" fill="#3f095a"/>
<rect x="476.14" y="1739.84" width="20.54" height="46.01" fill="#482578"/>
<rect x="495.68" y="1739.84" width="20.54" height="46.01" fill="#473280"/>
<rect x="515.22" y="1739.84" width="20.54" height="46.01" fill="#3f095a"/>
<rect x="534.77" y="1739.84" width="20.54" height="46.01" fill="#3f5890"/>
<rect x="554.31" y="1739.84" width="20.54" height="46.01" fill="#473582"/>
<rect x="573.86" y="1739.84" width="20.54" height="46.01" fill="#468693"/>
<rect x="593.4" y="1739.84" width="20.54" height="46.01" fill="#40558f"/>
<rect x="612.94" y="1739.84" width="20.54" height="46.01" fill="#424c8c"/>
<rect x="632.49" y="1739.84" width="40.09" height="46.01" fill="#3f095a"/>
<rect x="671.58" y="1739.84" width="20.54" height="46.01" fill="#463883"/>
<rect x="691.12" y="1739.84" width="59.63" height="46.01" fill="#3f095a"/>
<rect x="749.75" y="1739.84" width="20.54" height="46.01" fill="#482578"/>
<rect x="769.3" y="1739.84" width="20.54" height="46.01" fill="#3f095a"/>
<rect x="788.84" y="1739.84" width="20.54" height="46.01" fill="#473582"/>
<rect x="808.38" y="1739.84" width="40.09" height="46.01" fill="#473280"/>
<rect x="847.47" y="1739.84" width="59.63" height="46.01" fill="#472f7e"/>
<rect x="906.1" y="1739.84" width="20.54" height="46.01" fill="#3f095a"/>
<rect x="925.65" y="1739.84" width="20.54" height="46.01" fill="#463b85"/>
<rect x="945.19" y="1739.84" width="20.54" height="46.01" fill="#472f7e"/>
<rect x="964.74" y="1739.84" width="20.54" height="46.01" fill="#414f8d"/>
<rect x="984.28" y="1739.84" width="20.54" height="46.01" fill="#461f72"/>
<rect x="1003.82" y="1739.84" width="79.18" height="46.01" fill="#3f095a"/>
<rect x="1082" y="1739.84" width="20.54" height="46.01" fill="#468293"/>
<rect x="1101.54" y="1739.84" width="20.54" height="46.01" fill="#473280"/>
<rect x="1121.09" y="1739.84" width="20.54" height="46.01" fill="#48287a"/>
<rect x="1140.63" y="1739.84" width="20.54" height="46.01" fill="#482b7c"/>
<rect x="1160.18" y="1739.84" width="59.63" height="46.01" fill="#3f095a"/>
<rect x="1218.81" y="1739.84" width="20.54" height="46.01" fill="#461f72"/>
<rect x="1238.35" y="1739.84" width="40.09" height="46.01" fill="#3f095a"/>
<rect x="104.8" y="1784.85" width="215.98" height="46.01" fill="#3f095a"/>
<rect x="319.78" y="1784.85" width="20.54" height="46.01" fill="#473582"/>
<rect x="339.33" y="1784.85" width="20.54" height="46.01" fill="#444489"/>
<rect x="358.87" y="1784.85" width="567.78" height="46.01" fill="#3f095a"/>
<rect x="925.65" y="1784.85" width="40.09" height="46.01" fill="#3f5890"/>
<rect x="964.74" y="1784.85" width="20.54" height="46.01" fill="#40528e"/>
<rect x="984.28" y="1784.85" width="20.54" height="46.01" fill="#3f5a90"/>
<rect x="1003.82" y="1784.85" width="79.18" height="46.01" fill="#3f095a"/>
<rect x="1082" y="1784.85" width="20.54" height="46.01" fill="#50af8a"/>
<rect x="1101.54" y="1784.85" width="79.18" height="46.01" fill="#3f095a"/>
<rect x="1179.72" y="1784.85" width="20.54" height="46.01" fill="#473582"/>
<rect x="1199.26" y="1784.85" width="40.09" height="46.01" fill="#3f095a"/>
<rect x="1238.35" y="1784.85" width="20.54" height="46.01" fill="#406e94"/>
<rect x="1257.9" y="1784.85" width="20.54" height="46.01" fill="#3f095a"/>
<rect x="104.8" y="1829.86" width="20.54" height="46.01" fill="#4c9c8e"/>
<rect x="124.34" y="1829.86" width="79.18" height="46.01" fill="#3f095a"/>
<rect x="202.52" y="1829.86" width="20.54" height="46.01" fill="#444489"/>
<rect x="222.06" y="1829.86" width="40.09" height="46.01" fill="#3f095a"/>
<rect x="261.15" y="1829.86" width="20.54" height="46.01" fill="#6cd46e"/>
<rect x="280.7" y="1829.86" width="20.54" height="46.01" fill="#447c94"/>
<rect x="300.24" y="1829.86" width="333.25" height="46.01" fill="#3f095a"/>
<rect x="632.49" y="1829.86" width="20.54" height="46.01" fill="#472f7e"/>
<rect x="652.03" y="1829.86" width="20.54" height="46.01" fill="#461f72"/>
<rect x="671.58" y="1829.86" width="489.6" height="46.01" fill="#3f095a"/>
<rect x="1160.18" y="1829.86" width="20.54" height="46.01" fill="#472275"/>
<rect x="1179.72" y="1829.86" width="98.72" height="46.01" fill="#3f095a"/>
<rect x="104.8" y="1874.87" width="274.62" height="46.01" fill="#3f095a"/>
<rect x="378.42" y="1874.87" width="20.54" height="46.01" fill="#473582"/>
<rect x="397.96" y="1874.87" width="20.54" height="46.01" fill="#3f095a"/>
<rect x="417.5" y="1874.87" width="20.54" height="46.01" fill="#40558f"/>
<rect x="437.05" y="1874.87" width="40.09" height="46.01" fill="#3f095a"/>
<rect x="476.14" y="1874.87" width="20.54" height="46.01" fill="#406e94"/>
<rect x="495.68" y="1874.87" width="20.54" height="46.01" fill="#427694"/>
<rect x="515.22" y="1874.87" width="20.54" height="46.01" fill="#3f5a90"/>
<rect x="534.77" y="1874.87" width="20.54" height="46.01" fill="#473582"/>
<rect x="554.31" y="1874.87" width="20.54" height="46.01" fill="#3f095a"/>
<rect x="573.86" y="1874.87" width="20.54" height="46.01" fill="#463883"/>
<rect x="593.4" y="1874.87" width="196.44" height="46.01" fill="#3f095a"/>
<rect x="788.84" y="1874.87" width="20.54" height="46.01" fill="#424c8c"/>
<rect x="808.38" y="1874.87" width="59.63" height="46.01" fill="#3f095a"/>
<rect x="867.02" y="1874.87" width="20.54" height="46.01" fill="#48287a"/>
<rect x="886.56" y="1874.87" width="20.54" height="46.01" fill="#444489"/>
<rect x="906.1" y="1874.87" width="294.16" height="46.01" fill="#3f095a"/>
<rect x="1199.26" y="1874.87" width="20.54" height="46.01" fill="#473582"/>
<rect x="1218.81" y="1874.87" width="20.54" height="46.01" fill="#eef234"/>
<rect x="1238.35" y="1874.87" width="20.54" height="46.01" fill="#447c94"/>
<rect x="1257.9" y="1874.87" width="20.54" height="46.01" fill="#50af8a"/>
</g>
<g id="labels">
<text class="rl" y="138.3"><tspan x="1287.4" textLength="199.1" lengthAdjust="spacing">Ecosystem</tspan><tspan> </tspan><tspan x="1495.8" textLength="121.11" lengthAdjust="spacing">Health</tspan></text>
<text class="rl" y="188.7"><tspan x="1288.2" textLength="69.15" lengthAdjust="spacing">Site</tspan></text>
<text class="rl" y="245.2"><tspan x="1287.4" textLength="39.51" lengthAdjust="spacing">B;</tspan><tspan> </tspan><tspan x="1335.1" textLength="297.51" lengthAdjust="spacing">Acidobacteriota;</tspan><tspan> </tspan><tspan x="1641.2" textLength="94.73" lengthAdjust="spacing">SbA1</tspan></text>
<text class="rl" y="290.2"><tspan x="1287.4" textLength="39.51" lengthAdjust="spacing">B;</tspan><tspan> </tspan><tspan x="1335.1" textLength="374.83" lengthAdjust="spacing">Desulfobacterota_B;</tspan><tspan> </tspan><tspan x="1718.1" textLength="208.25" lengthAdjust="spacing">Binataceae</tspan></text>
<text class="rl" y="335.2"><tspan x="1287.4" textLength="39.51" lengthAdjust="spacing">B;</tspan><tspan> </tspan><tspan x="1335.1" textLength="291.13" lengthAdjust="spacing">Actinomycetota;</tspan><tspan> </tspan><tspan x="1634.7" textLength="395.68" lengthAdjust="spacing">Solirubrobacteraceae</tspan></text>
<text class="rl" y="380.2"><tspan x="1287.4" textLength="39.51" lengthAdjust="spacing">B;</tspan><tspan> </tspan><tspan x="1335.1" textLength="337.77" lengthAdjust="spacing">Pseudomonadota;</tspan><tspan> </tspan><tspan x="1682.3" textLength="357.93" lengthAdjust="spacing">Xanthobacteraceae</tspan></text>
<text class="rl" y="425.2"><tspan x="1287.4" textLength="39.51" lengthAdjust="spacing">B;</tspan><tspan> </tspan><tspan x="1335.1" textLength="337.77" lengthAdjust="spacing">Pseudomonadota;</tspan><tspan> </tspan><tspan x="1681.1" textLength="305.45" lengthAdjust="spacing">Beijerinckiaceae</tspan></text>
<text class="rl" y="470.2"><tspan x="1287.4" textLength="39.51" lengthAdjust="spacing">B;</tspan><tspan> </tspan><tspan x="1335.1" textLength="337.77" lengthAdjust="spacing">Pseudomonadota;</tspan><tspan> </tspan><tspan x="1681.1" textLength="372.82" lengthAdjust="spacing">Rhodomicrobiaceae</tspan></text>
<text class="rl" y="515.2"><tspan x="1287.4" textLength="39.51" lengthAdjust="spacing">B;</tspan><tspan> </tspan><tspan x="1335.1" textLength="315.14" lengthAdjust="spacing">Planctomycetota;</tspan><tspan> </tspan><tspan x="1657.8" textLength="295.36" lengthAdjust="spacing">Isosphaeraceae</tspan></text>
<text class="rl" y="560.2"><tspan x="1287.4" textLength="39.51" lengthAdjust="spacing">B;</tspan><tspan> </tspan><tspan x="1335.1" textLength="337.77" lengthAdjust="spacing">Pseudomonadota;</tspan><tspan> </tspan><tspan x="1681.8" textLength="381.7" lengthAdjust="spacing">Steroidobacteraceae</tspan></text>
<text class="rl" y="605.2"><tspan x="1287.4" textLength="39.51" lengthAdjust="spacing">B;</tspan><tspan> </tspan><tspan x="1335.1" textLength="291.13" lengthAdjust="spacing">Actinomycetota;</tspan><tspan> </tspan><tspan x="1634.7" textLength="405.52" lengthAdjust="spacing">Streptosporangiaceae</tspan></text>
<text class="rl" y="650.2"><tspan x="1287.4" textLength="39.51" lengthAdjust="spacing">B;</tspan><tspan> </tspan><tspan x="1335.1" textLength="291.13" lengthAdjust="spacing">Actinomycetota;</tspan><tspan> </tspan><tspan x="1634.5" textLength="157.34" lengthAdjust="spacing">Bog-793</tspan></text>
<text class="rl" y="695.2"><tspan x="1288.65" textLength="38.26" lengthAdjust="spacing">A;</tspan><tspan> </tspan><tspan x="1335.1" textLength="304.44" lengthAdjust="spacing">Thermoproteota;</tspan><tspan> </tspan><tspan x="1648.25" textLength="153.22" lengthAdjust="spacing">UBA233</tspan></text>
<text class="rl" y="740.2"><tspan x="1287.4" textLength="39.51" lengthAdjust="spacing">B;</tspan><tspan> </tspan><tspan x="1335.1" textLength="297.51" lengthAdjust="spacing">Acidobacteriota;</tspan><tspan> </tspan><tspan x="1642.95" textLength="340.49" lengthAdjust="spacing">Acidobacteriaceae</tspan></text>
<text class="rl" y="785.2"><tspan x="1287.4" textLength="39.51" lengthAdjust="spacing">B;</tspan><tspan> </tspan><tspan x="1335.1" textLength="297.51" lengthAdjust="spacing">Acidobacteriota;</tspan><tspan> </tspan><tspan x="1640.5" textLength="312.47" lengthAdjust="spacing">Bryobacteraceae</tspan></text>
<text class="rl" y="830.2"><tspan x="1287.4" textLength="39.51" lengthAdjust="spacing">B;</tspan><tspan> </tspan><tspan x="1335.1" textLength="297.51" lengthAdjust="spacing">Acidobacteriota;</tspan><tspan> </tspan><tspan x="1641.25" textLength="172.64" lengthAdjust="spacing">UBA7541</tspan></text>
<text class="rl" y="875.2"><tspan x="1287.4" textLength="39.51" lengthAdjust="spacing">B;</tspan><tspan> </tspan><tspan x="1335.1" textLength="324.97" lengthAdjust="spacing">Desulfobacterota;</tspan><tspan> </tspan><tspan x="1668.15" textLength="293.48" lengthAdjust="spacing">0-14-0-80-60-11</tspan></text>
<text class="rl" y="920.2"><tspan x="1287.4" textLength="39.51" lengthAdjust="spacing">B;</tspan><tspan> </tspan><tspan x="1335.1" textLength="324.97" lengthAdjust="spacing">Desulfobacterota;</tspan><tspan> </tspan><tspan x="1668.4" textLength="415.82" lengthAdjust="spacing">Syntrophobacteraceae</tspan></text>
<text class="rl" y="965.2"><tspan x="1288.65" textLength="38.26" lengthAdjust="spacing">A;</tspan><tspan> </tspan><tspan x="1335.1" textLength="304.44" lengthAdjust="spacing">Thermoproteota;</tspan><tspan> </tspan><tspan x="1647.5" textLength="162.78" lengthAdjust="spacing">FEN-987</tspan></text>
<text class="rl" y="1010.2"><tspan x="1287.4" textLength="39.51" lengthAdjust="spacing">B;</tspan><tspan> </tspan><tspan x="1335.1" textLength="315.14" lengthAdjust="spacing">Planctomycetota;</tspan><tspan> </tspan><tspan x="1658.75" textLength="320.62" lengthAdjust="spacing">Thermoguttaceae</tspan></text>
<text class="rl" y="1055.2"><tspan x="1287.4" textLength="39.51" lengthAdjust="spacing">B;</tspan><tspan> </tspan><tspan x="1335.1" textLength="297.51" lengthAdjust="spacing">Acidobacteriota;</tspan><tspan> </tspan><tspan x="1641.25" textLength="176.84" lengthAdjust="spacing">UBA7540</tspan></text>
<text class="rl" y="1100.2"><tspan x="1287.4" textLength="39.51" lengthAdjust="spacing">B;</tspan><tspan> </tspan><tspan x="1335.1" textLength="291.13" lengthAdjust="spacing">Actinomycetota;</tspan><tspan> </tspan><tspan x="1634.5" textLength="147.12" lengthAdjust="spacing">RAAP-2</tspan></text>
<text class="rl" y="1145.2"><tspan x="1287.4" textLength="39.51" lengthAdjust="spacing">B;</tspan><tspan> </tspan><tspan x="1335.1" textLength="344.97" lengthAdjust="spacing">Verrucomicrobiota;</tspan><tspan> </tspan><tspan x="1688.35" textLength="176.84" lengthAdjust="spacing">UBA8199</tspan></text>
<text class="rl" y="1190.2"><tspan x="1287.4" textLength="39.51" lengthAdjust="spacing">B;</tspan><tspan> </tspan><tspan x="1335.1" textLength="274.78" lengthAdjust="spacing">Dependentiae;</tspan><tspan> </tspan><tspan x="1618.2" textLength="230.61" lengthAdjust="spacing">Babeliaceae</tspan></text>
<text class="rl" y="1235.2"><tspan x="1287.4" textLength="39.51" lengthAdjust="spacing">B;</tspan><tspan> </tspan><tspan x="1335.1" textLength="324.97" lengthAdjust="spacing">Desulfobacterota;</tspan><tspan> </tspan><tspan x="1668.4" textLength="261.41" lengthAdjust="spacing">Smithellaceae</tspan></text>
<text class="rl" y="1280.2"><tspan x="1287.4" textLength="39.51" lengthAdjust="spacing">B;</tspan><tspan> </tspan><tspan x="1335.1" textLength="267.83" lengthAdjust="spacing">Spirochaetota;</tspan><tspan> </tspan><tspan x="1611.2" textLength="321.12" lengthAdjust="spacing">Rectinemataceae</tspan></text>
<text class="rl" y="1325.2"><tspan x="1287.4" textLength="39.51" lengthAdjust="spacing">B;</tspan><tspan> </tspan><tspan x="1335.1" textLength="344.97" lengthAdjust="spacing">Verrucomicrobiota;</tspan><tspan> </tspan><tspan x="1688.1" textLength="210.73" lengthAdjust="spacing">Palsa-1400</tspan></text>
<text class="rl" y="1370.2"><tspan x="1287.4" textLength="39.51" lengthAdjust="spacing">B;</tspan><tspan> </tspan><tspan x="1335.1" textLength="337.77" lengthAdjust="spacing">Pseudomonadota;</tspan><tspan> </tspan><tspan x="1681.1" textLength="305.66" lengthAdjust="spacing">Micropepsaceae</tspan></text>
<text class="rl" y="1415.2"><tspan x="1287.4" textLength="39.51" lengthAdjust="spacing">B;</tspan><tspan> </tspan><tspan x="1335.1" textLength="244.22" lengthAdjust="spacing">Bacteroidota;</tspan><tspan> </tspan><tspan x="1587.4" textLength="237.69" lengthAdjust="spacing">Palsa-948_A</tspan></text>
<text class="rl" y="1460.2"><tspan x="1287.4" textLength="39.51" lengthAdjust="spacing">B;</tspan><tspan> </tspan><tspan x="1335.1" textLength="344.97" lengthAdjust="spacing">Verrucomicrobiota;</tspan><tspan> </tspan><tspan x="1688.35" textLength="193.95" lengthAdjust="spacing">UBA11358</tspan></text>
<text class="rl" y="1505.2"><tspan x="1287.4" textLength="39.51" lengthAdjust="spacing">B;</tspan><tspan> </tspan><tspan x="1335.1" textLength="257.15" lengthAdjust="spacing">Chloroflexota;</tspan><tspan> </tspan><tspan x="1600.35" textLength="143.39" lengthAdjust="spacing">CSP1-4</tspan></text>
<text class="rl" y="1550.2"><tspan x="1287.4" textLength="39.51" lengthAdjust="spacing">B;</tspan><tspan> </tspan><tspan x="1335.1" textLength="337.77" lengthAdjust="spacing">Pseudomonadota;</tspan><tspan> </tspan><tspan x="1681.1" textLength="325.53" lengthAdjust="spacing">Burkholderiaceae</tspan></text>
<text class="rl" y="1595.2"><tspan x="1287.4" textLength="39.51" lengthAdjust="spacing">B;</tspan><tspan> </tspan><tspan x="1335.1" textLength="337.77" lengthAdjust="spacing">Pseudomonadota;</tspan><tspan> </tspan><tspan x="1683.05" textLength="330" lengthAdjust="spacing">Acetobacteraceae</tspan></text>
<text class="rl" y="1640.2"><tspan x="1287.4" textLength="39.51" lengthAdjust="spacing">B;</tspan><tspan> </tspan><tspan x="1335.1" textLength="291.13" lengthAdjust="spacing">Actinomycetota;</tspan><tspan> </tspan><tspan x="1633.8" textLength="335.64" lengthAdjust="spacing">Mycobacteriaceae</tspan></text>
<text class="rl" y="1685.2"><tspan x="1287.4" textLength="39.51" lengthAdjust="spacing">B;</tspan><tspan> </tspan><tspan x="1335.1" textLength="294.31" lengthAdjust="spacing">Dormibacterota;</tspan><tspan> </tspan><tspan x="1637.85" textLength="176.84" lengthAdjust="spacing">UBA8260</tspan></text>
<text class="rl" y="1730.2"><tspan x="1287.4" textLength="39.51" lengthAdjust="spacing">B;</tspan><tspan> </tspan><tspan x="1335.1" textLength="251.05" lengthAdjust="spacing">Myxococcota;</tspan><tspan> </tspan><tspan x="1594.2" textLength="177.14" lengthAdjust="spacing">Fen-1088</tspan></text>
<text class="rl" y="1775.2"><tspan x="1287.4" textLength="39.51" lengthAdjust="spacing">B;</tspan><tspan> </tspan><tspan x="1335.1" textLength="297.51" lengthAdjust="spacing">Acidobacteriota;</tspan><tspan> </tspan><tspan x="1640.5" textLength="302.37" lengthAdjust="spacing">Koribacteraceae</tspan></text>
<text class="rl" y="1820.2"><tspan x="1287.4" textLength="39.51" lengthAdjust="spacing">B;</tspan><tspan> </tspan><tspan x="1335.1" textLength="251.05" lengthAdjust="spacing">Myxococcota;</tspan><tspan> </tspan><tspan x="1594" textLength="295.33" lengthAdjust="spacing">Myxococcaceae</tspan></text>
<text class="rl" y="1865.2"><tspan x="1287.4" textLength="39.51" lengthAdjust="spacing">B;</tspan><tspan> </tspan><tspan x="1335.1" textLength="324.97" lengthAdjust="spacing">Desulfobacterota;</tspan><tspan> </tspan><tspan x="1667.8" textLength="355.61" lengthAdjust="spacing">Desulfomonilaceae</tspan></text>
<text class="rl" y="1910.2"><tspan x="1287.4" textLength="39.51" lengthAdjust="spacing">B;</tspan><tspan> </tspan><tspan x="1335.1" textLength="251.05" lengthAdjust="spacing">Myxococcota;</tspan><tspan> </tspan><tspan x="1594" textLength="274.96" lengthAdjust="spacing">Polyangiaceae</tspan></text>
</g>
<g id="legend">
<text class="lt" y="1964.9"><tspan x="104.9" textLength="184.8" lengthAdjust="spacing">Ecosystem</tspan><tspan> </tspan><tspan x="300" textLength="105.53" lengthAdjust="spacing">Health</tspan></text>
<rect x="106.2" y="1984" width="35.7" height="34.7" fill="#60be4d"/>
<rect x="106.2" y="2021.9" width="35.7" height="34.9" fill="#4d88be"/>
<rect x="106.2" y="2060.1" width="35.7" height="34.9" fill="#ea261f"/>
<text class="ll" y="2013.7"><tspan x="151.9" textLength="113.03" lengthAdjust="spacing">Natural</tspan></text>
<text class="ll" y="2051.6"><tspan x="152.5" textLength="140.45" lengthAdjust="spacing">Restored</tspan></text>
<text class="ll" y="2089.6"><tspan x="152.5" textLength="150.82" lengthAdjust="spacing">Damaged</tspan></text>
<text class="lt" y="1964.9"><tspan x="433.35" textLength="62.55" lengthAdjust="spacing">Site</tspan></text>
<rect x="434.2" y="1984" width="35.6" height="34.7" fill="#4cac85"/>
<text class="ll" y="2013.7"><tspan x="480.1" textLength="136.25" lengthAdjust="spacing">Balmoral</tspan></text>
<rect x="434.2" y="2021.9" width="35.6" height="34.9" fill="#dc671e"/>
<text class="ll" y="2051.6"><tspan x="480.1" textLength="142.1" lengthAdjust="spacing">Bowness</tspan></text>
<rect x="434.2" y="2060.1" width="35.6" height="34.9" fill="#7b72b8"/>
<text class="ll" y="2089.6"><tspan x="480.6" textLength="127.16" lengthAdjust="spacing">Crocach</tspan></text>
<rect x="637.2" y="1984" width="35.6" height="34.7" fill="#e83499"/>
<text class="ll" y="2013.7"><tspan x="683.1" textLength="139.21" lengthAdjust="spacing">Langwell</tspan></text>
<rect x="637.2" y="2021.9" width="35.6" height="34.9" fill="#75b62e"/>
<text class="ll" y="2051.6"><tspan x="683.1" textLength="130.54" lengthAdjust="spacing">Migneint</tspan></text>
<rect x="637.2" y="2060.1" width="35.6" height="34.9" fill="#ddae2e"/>
<text class="ll" y="2089.6"><tspan x="683.1" textLength="77.88" lengthAdjust="spacing">Moor</tspan><tspan> </tspan><tspan x="768.9" textLength="99.02" lengthAdjust="spacing">House</tspan></text>
<rect x="896.4" y="1984" width="35.6" height="34.7" fill="#aa7c2c"/>
<text class="ll" y="2013.7"><tspan x="942.95" textLength="92.74" lengthAdjust="spacing">Stean</tspan></text>
<text class="lt" y="1964.9"><tspan x="1069.3" textLength="87.38" lengthAdjust="spacing">Mean</tspan><tspan> </tspan><tspan x="1167.7" textLength="171.24" lengthAdjust="spacing">Virus/Host</tspan><tspan> </tspan><tspan x="1348.5" textLength="84.6" lengthAdjust="spacing">Ratio</tspan></text>
<defs><linearGradient id="vg" gradientUnits="userSpaceOnUse" x1="0" y1="1988.8" x2="0" y2="2088.3">
<stop offset="0" stop-color="#eef234"/>
<stop offset="0.05" stop-color="#eef234"/>
<stop offset="0.1" stop-color="#ecf034"/>
<stop offset="0.15" stop-color="#d8f034"/>
<stop offset="0.2" stop-color="#b8ee3c"/>
<stop offset="0.25" stop-color="#9ce84c"/>
<stop offset="0.3" stop-color="#80e060"/>
<stop offset="0.35" stop-color="#6cd670"/>
<stop offset="0.4" stop-color="#5cc880"/>
<stop offset="0.45" stop-color="#54b888"/>
<stop offset="0.5" stop-color="#4caa8c"/>
<stop offset="0.55" stop-color="#4a9a90"/>
<stop offset="0.6" stop-color="#468a92"/>
<stop offset="0.65" stop-color="#447590"/>
<stop offset="0.7" stop-color="#426594"/>
<stop offset="0.75" stop-color="#435590"/>
<stop offset="0.8" stop-color="#454288"/>
<stop offset="0.85" stop-color="#463280"/>
<stop offset="0.9" stop-color="#482878"/>
<stop offset="0.95" stop-color="#461269"/>
<stop offset="1" stop-color="#3f095a"/>
</linearGradient></defs>
<rect x="1067.8" y="1981" width="40.4" height="114.9" fill="url(#vg)"/>
<path d="M1067.8 1988.8h9.4M1108.2 1988.8h-9.4" stroke="#fff" stroke-width="2.1" fill="none"/>
<path d="M1067.8 2038.5h9.4M1108.2 2038.5h-9.4" stroke="#fff" stroke-width="2.1" fill="none"/>
<path d="M1067.8 2088.3h9.4M1108.2 2088.3h-9.4" stroke="#fff" stroke-width="2.1" fill="none"/>
<text class="ll" y="2000.9"><tspan x="1115.1" y="2003.4" textLength="20.93" lengthAdjust="spacing">&gt;</tspan><tspan x="1137.25" y="2000.9" textLength="38.6" lengthAdjust="spacing">10</tspan></text>
<text class="ll" y="2051.3"><tspan x="1116.45" textLength="18.72" lengthAdjust="spacing">5</tspan></text>
<text class="ll" y="2100.6"><tspan x="1116.45" textLength="18.47" lengthAdjust="spacing">0</tspan></text>
</g>
</svg></body></html>
